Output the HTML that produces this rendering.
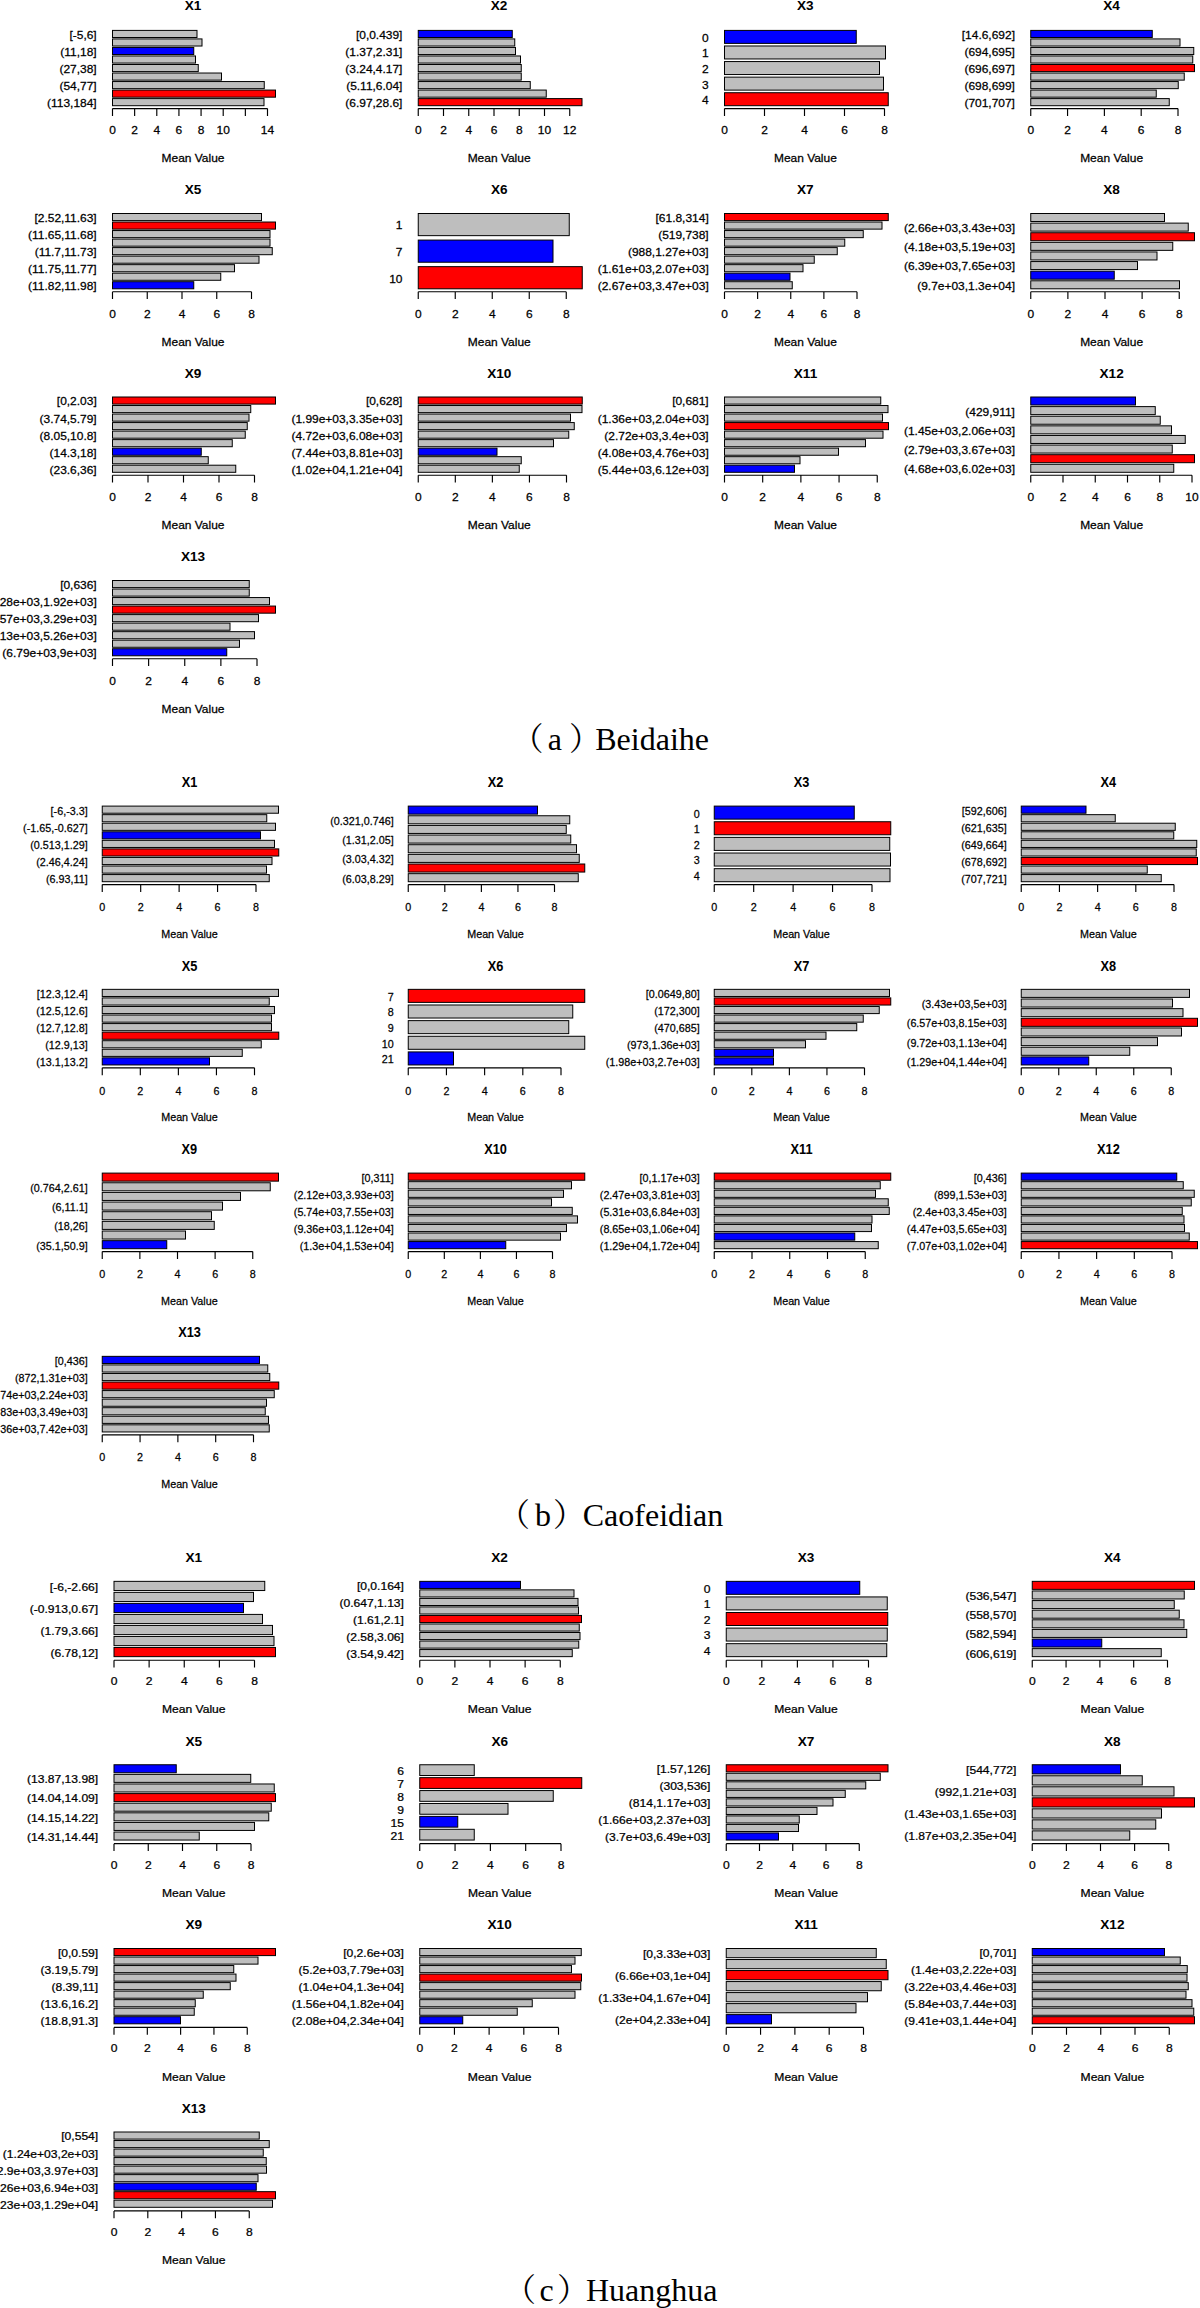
<!DOCTYPE html>
<html><head><meta charset="utf-8"><title>Figure</title><style>
html,body{margin:0;padding:0;background:#fff}
svg{display:block}
.t{font-family:"Liberation Sans",sans-serif;fill:#000;stroke:#000;stroke-width:0.25px}
.h{font-family:"Liberation Sans",sans-serif;font-weight:bold;fill:#000}
.cap{font-family:"Liberation Serif","Noto Serif CJK SC",serif;font-size:32px;fill:#000}
rect{stroke:#000;stroke-width:1}
.ax{stroke:#000;stroke-width:1.15;fill:none}
</style></head><body>
<svg width="1200" height="2308" viewBox="0 0 1200 2308">
<rect x="0" y="0" width="1200" height="2308" fill="#fff" style="stroke:none"/>
<g><rect x="112.5" y="30.4" width="84.5" height="7.1" fill="#bebebe"/><text class="t" font-size="11.4" transform="translate(96.7,38.85) scale(1.05,1)" text-anchor="end">[-5,6]</text><rect x="112.5" y="38.92" width="89.5" height="7.1" fill="#bebebe"/><rect x="112.5" y="47.45" width="81.25" height="7.1" fill="#0000ff"/><text class="t" font-size="11.4" transform="translate(96.7,55.9) scale(1.05,1)" text-anchor="end">(11,18]</text><rect x="112.5" y="55.97" width="83" height="7.1" fill="#bebebe"/><rect x="112.5" y="64.5" width="85.75" height="7.1" fill="#bebebe"/><text class="t" font-size="11.4" transform="translate(96.7,72.95) scale(1.05,1)" text-anchor="end">(27,38]</text><rect x="112.5" y="73.02" width="109" height="7.1" fill="#bebebe"/><rect x="112.5" y="81.55" width="151.75" height="7.1" fill="#bebebe"/><text class="t" font-size="11.4" transform="translate(96.7,90) scale(1.05,1)" text-anchor="end">(54,77]</text><rect x="112.5" y="90.07" width="163" height="7.1" fill="#ff0000"/><rect x="112.5" y="98.6" width="151.5" height="7.1" fill="#bebebe"/><text class="t" font-size="11.4" transform="translate(96.7,107.05) scale(1.05,1)" text-anchor="end">(113,184]</text><text class="t" font-size="11.4" transform="translate(112.5,133.6) scale(1.05,1)" text-anchor="middle">0</text><text class="t" font-size="11.4" transform="translate(134.64,133.6) scale(1.05,1)" text-anchor="middle">2</text><text class="t" font-size="11.4" transform="translate(156.79,133.6) scale(1.05,1)" text-anchor="middle">4</text><text class="t" font-size="11.4" transform="translate(178.93,133.6) scale(1.05,1)" text-anchor="middle">6</text><text class="t" font-size="11.4" transform="translate(201.07,133.6) scale(1.05,1)" text-anchor="middle">8</text><text class="t" font-size="11.4" transform="translate(223.21,133.6) scale(1.05,1)" text-anchor="middle">10</text><text class="t" font-size="11.4" transform="translate(267.5,133.6) scale(1.05,1)" text-anchor="middle">14</text><path class="ax" d="M112.5 108.6H267.5M112.5 108.6v7.3M134.64 108.6v7.3M156.79 108.6v7.3M178.93 108.6v7.3M201.07 108.6v7.3M223.21 108.6v7.3M245.36 108.6v7.3M267.5 108.6v7.3"/><text class="t" font-size="11.4" transform="translate(193,161.9) scale(1.05,1)" text-anchor="middle">Mean Value</text><text class="h" font-size="13.6" x="193" y="10.4" text-anchor="middle">X1</text></g>
<g><rect x="418.25" y="30.4" width="94" height="7.1" fill="#0000ff"/><text class="t" font-size="11.4" transform="translate(402.45,38.85) scale(1.05,1)" text-anchor="end">[0,0.439]</text><rect x="418.25" y="38.92" width="96.5" height="7.1" fill="#bebebe"/><rect x="418.25" y="47.45" width="97.25" height="7.1" fill="#bebebe"/><text class="t" font-size="11.4" transform="translate(402.45,55.9) scale(1.05,1)" text-anchor="end">(1.37,2.31]</text><rect x="418.25" y="55.97" width="102.25" height="7.1" fill="#bebebe"/><rect x="418.25" y="64.5" width="103" height="7.1" fill="#bebebe"/><text class="t" font-size="11.4" transform="translate(402.45,72.95) scale(1.05,1)" text-anchor="end">(3.24,4.17]</text><rect x="418.25" y="73.02" width="103" height="7.1" fill="#bebebe"/><rect x="418.25" y="81.55" width="112" height="7.1" fill="#bebebe"/><text class="t" font-size="11.4" transform="translate(402.45,90) scale(1.05,1)" text-anchor="end">(5.11,6.04]</text><rect x="418.25" y="90.07" width="128" height="7.1" fill="#bebebe"/><rect x="418.25" y="98.6" width="163.75" height="7.1" fill="#ff0000"/><text class="t" font-size="11.4" transform="translate(402.45,107.05) scale(1.05,1)" text-anchor="end">(6.97,28.6]</text><text class="t" font-size="11.4" transform="translate(418.25,133.6) scale(1.05,1)" text-anchor="middle">0</text><text class="t" font-size="11.4" transform="translate(443.5,133.6) scale(1.05,1)" text-anchor="middle">2</text><text class="t" font-size="11.4" transform="translate(468.75,133.6) scale(1.05,1)" text-anchor="middle">4</text><text class="t" font-size="11.4" transform="translate(494,133.6) scale(1.05,1)" text-anchor="middle">6</text><text class="t" font-size="11.4" transform="translate(519.25,133.6) scale(1.05,1)" text-anchor="middle">8</text><text class="t" font-size="11.4" transform="translate(544.5,133.6) scale(1.05,1)" text-anchor="middle">10</text><text class="t" font-size="11.4" transform="translate(569.75,133.6) scale(1.05,1)" text-anchor="middle">12</text><path class="ax" d="M418.25 108.6H569.75M418.25 108.6v7.3M443.5 108.6v7.3M468.75 108.6v7.3M494 108.6v7.3M519.25 108.6v7.3M544.5 108.6v7.3M569.75 108.6v7.3"/><text class="t" font-size="11.4" transform="translate(499.12,161.9) scale(1.05,1)" text-anchor="middle">Mean Value</text><text class="h" font-size="13.6" x="499.12" y="10.4" text-anchor="middle">X2</text></g>
<g><rect x="724.5" y="30.4" width="131.75" height="12.98" fill="#0000ff"/><text class="t" font-size="11.4" transform="translate(708.7,41.79) scale(1.05,1)" text-anchor="end">0</text><rect x="724.5" y="45.98" width="161" height="12.98" fill="#bebebe"/><text class="t" font-size="11.4" transform="translate(708.7,57.37) scale(1.05,1)" text-anchor="end">1</text><rect x="724.5" y="61.56" width="155" height="12.98" fill="#bebebe"/><text class="t" font-size="11.4" transform="translate(708.7,72.95) scale(1.05,1)" text-anchor="end">2</text><rect x="724.5" y="77.14" width="159" height="12.98" fill="#bebebe"/><text class="t" font-size="11.4" transform="translate(708.7,88.53) scale(1.05,1)" text-anchor="end">3</text><rect x="724.5" y="92.72" width="163.75" height="12.98" fill="#ff0000"/><text class="t" font-size="11.4" transform="translate(708.7,104.11) scale(1.05,1)" text-anchor="end">4</text><text class="t" font-size="11.4" transform="translate(724.5,133.6) scale(1.05,1)" text-anchor="middle">0</text><text class="t" font-size="11.4" transform="translate(764.5,133.6) scale(1.05,1)" text-anchor="middle">2</text><text class="t" font-size="11.4" transform="translate(804.5,133.6) scale(1.05,1)" text-anchor="middle">4</text><text class="t" font-size="11.4" transform="translate(844.5,133.6) scale(1.05,1)" text-anchor="middle">6</text><text class="t" font-size="11.4" transform="translate(884.5,133.6) scale(1.05,1)" text-anchor="middle">8</text><path class="ax" d="M724.5 108.6H884.5M724.5 108.6v7.3M764.5 108.6v7.3M804.5 108.6v7.3M844.5 108.6v7.3M884.5 108.6v7.3"/><text class="t" font-size="11.4" transform="translate(805.38,161.9) scale(1.05,1)" text-anchor="middle">Mean Value</text><text class="h" font-size="13.6" x="805.38" y="10.4" text-anchor="middle">X3</text></g>
<g><rect x="1030.75" y="30.4" width="121.5" height="7.1" fill="#0000ff"/><text class="t" font-size="11.4" transform="translate(1014.95,38.85) scale(1.05,1)" text-anchor="end">[14.6,692]</text><rect x="1030.75" y="38.92" width="149.25" height="7.1" fill="#bebebe"/><rect x="1030.75" y="47.45" width="163" height="7.1" fill="#bebebe"/><text class="t" font-size="11.4" transform="translate(1014.95,55.9) scale(1.05,1)" text-anchor="end">(694,695]</text><rect x="1030.75" y="55.97" width="162" height="7.1" fill="#bebebe"/><rect x="1030.75" y="64.5" width="163.75" height="7.1" fill="#ff0000"/><text class="t" font-size="11.4" transform="translate(1014.95,72.95) scale(1.05,1)" text-anchor="end">(696,697]</text><rect x="1030.75" y="73.02" width="153.5" height="7.1" fill="#bebebe"/><rect x="1030.75" y="81.55" width="147.5" height="7.1" fill="#bebebe"/><text class="t" font-size="11.4" transform="translate(1014.95,90) scale(1.05,1)" text-anchor="end">(698,699]</text><rect x="1030.75" y="90.07" width="125.5" height="7.1" fill="#bebebe"/><rect x="1030.75" y="98.6" width="138.5" height="7.1" fill="#bebebe"/><text class="t" font-size="11.4" transform="translate(1014.95,107.05) scale(1.05,1)" text-anchor="end">(701,707]</text><text class="t" font-size="11.4" transform="translate(1030.75,133.6) scale(1.05,1)" text-anchor="middle">0</text><text class="t" font-size="11.4" transform="translate(1067.56,133.6) scale(1.05,1)" text-anchor="middle">2</text><text class="t" font-size="11.4" transform="translate(1104.38,133.6) scale(1.05,1)" text-anchor="middle">4</text><text class="t" font-size="11.4" transform="translate(1141.19,133.6) scale(1.05,1)" text-anchor="middle">6</text><text class="t" font-size="11.4" transform="translate(1178,133.6) scale(1.05,1)" text-anchor="middle">8</text><path class="ax" d="M1030.75 108.6H1178M1030.75 108.6v7.3M1067.56 108.6v7.3M1104.38 108.6v7.3M1141.19 108.6v7.3M1178 108.6v7.3"/><text class="t" font-size="11.4" transform="translate(1111.62,161.9) scale(1.05,1)" text-anchor="middle">Mean Value</text><text class="h" font-size="13.6" x="1111.62" y="10.4" text-anchor="middle">X4</text></g>
<g><rect x="112.5" y="213.5" width="149" height="7.1" fill="#bebebe"/><text class="t" font-size="11.4" transform="translate(96.7,221.95) scale(1.05,1)" text-anchor="end">[2.52,11.63]</text><rect x="112.5" y="222.02" width="163" height="7.1" fill="#ff0000"/><rect x="112.5" y="230.55" width="157.5" height="7.1" fill="#bebebe"/><text class="t" font-size="11.4" transform="translate(96.7,239) scale(1.05,1)" text-anchor="end">(11.65,11.68]</text><rect x="112.5" y="239.07" width="157.5" height="7.1" fill="#bebebe"/><rect x="112.5" y="247.6" width="159.75" height="7.1" fill="#bebebe"/><text class="t" font-size="11.4" transform="translate(96.7,256.05) scale(1.05,1)" text-anchor="end">(11.7,11.73]</text><rect x="112.5" y="256.12" width="146.5" height="7.1" fill="#bebebe"/><rect x="112.5" y="264.65" width="122" height="7.1" fill="#bebebe"/><text class="t" font-size="11.4" transform="translate(96.7,273.1) scale(1.05,1)" text-anchor="end">(11.75,11.77]</text><rect x="112.5" y="273.17" width="108.25" height="7.1" fill="#bebebe"/><rect x="112.5" y="281.7" width="81.25" height="7.1" fill="#0000ff"/><text class="t" font-size="11.4" transform="translate(96.7,290.15) scale(1.05,1)" text-anchor="end">(11.82,11.98]</text><text class="t" font-size="11.4" transform="translate(112.5,317.5) scale(1.05,1)" text-anchor="middle">0</text><text class="t" font-size="11.4" transform="translate(147.25,317.5) scale(1.05,1)" text-anchor="middle">2</text><text class="t" font-size="11.4" transform="translate(182,317.5) scale(1.05,1)" text-anchor="middle">4</text><text class="t" font-size="11.4" transform="translate(216.75,317.5) scale(1.05,1)" text-anchor="middle">6</text><text class="t" font-size="11.4" transform="translate(251.5,317.5) scale(1.05,1)" text-anchor="middle">8</text><path class="ax" d="M112.5 291.7H251.5M112.5 291.7v7.3M147.25 291.7v7.3M182 291.7v7.3M216.75 291.7v7.3M251.5 291.7v7.3"/><text class="t" font-size="11.4" transform="translate(193,345.8) scale(1.05,1)" text-anchor="middle">Mean Value</text><text class="h" font-size="13.6" x="193" y="194.3" text-anchor="middle">X5</text></g>
<g><rect x="418.25" y="213.5" width="151" height="22.15" fill="#bebebe"/><text class="t" font-size="11.4" transform="translate(402.45,229.47) scale(1.05,1)" text-anchor="end">1</text><rect x="418.25" y="240.08" width="134.75" height="22.15" fill="#0000ff"/><text class="t" font-size="11.4" transform="translate(402.45,256.05) scale(1.05,1)" text-anchor="end">7</text><rect x="418.25" y="266.65" width="164" height="22.15" fill="#ff0000"/><text class="t" font-size="11.4" transform="translate(402.45,282.63) scale(1.05,1)" text-anchor="end">10</text><text class="t" font-size="11.4" transform="translate(418.25,317.5) scale(1.05,1)" text-anchor="middle">0</text><text class="t" font-size="11.4" transform="translate(455.25,317.5) scale(1.05,1)" text-anchor="middle">2</text><text class="t" font-size="11.4" transform="translate(492.25,317.5) scale(1.05,1)" text-anchor="middle">4</text><text class="t" font-size="11.4" transform="translate(529.25,317.5) scale(1.05,1)" text-anchor="middle">6</text><text class="t" font-size="11.4" transform="translate(566.25,317.5) scale(1.05,1)" text-anchor="middle">8</text><path class="ax" d="M418.25 291.7H566.25M418.25 291.7v7.3M455.25 291.7v7.3M492.25 291.7v7.3M529.25 291.7v7.3M566.25 291.7v7.3"/><text class="t" font-size="11.4" transform="translate(499.25,345.8) scale(1.05,1)" text-anchor="middle">Mean Value</text><text class="h" font-size="13.6" x="499.25" y="194.3" text-anchor="middle">X6</text></g>
<g><rect x="724.5" y="213.5" width="163.75" height="7.1" fill="#ff0000"/><text class="t" font-size="11.4" transform="translate(708.7,221.95) scale(1.05,1)" text-anchor="end">[61.8,314]</text><rect x="724.5" y="222.02" width="157.5" height="7.1" fill="#bebebe"/><rect x="724.5" y="230.55" width="138.75" height="7.1" fill="#bebebe"/><text class="t" font-size="11.4" transform="translate(708.7,239) scale(1.05,1)" text-anchor="end">(519,738]</text><rect x="724.5" y="239.07" width="120.25" height="7.1" fill="#bebebe"/><rect x="724.5" y="247.6" width="112.75" height="7.1" fill="#bebebe"/><text class="t" font-size="11.4" transform="translate(708.7,256.05) scale(1.05,1)" text-anchor="end">(988,1.27e+03]</text><rect x="724.5" y="256.12" width="89.75" height="7.1" fill="#bebebe"/><rect x="724.5" y="264.65" width="78.5" height="7.1" fill="#bebebe"/><text class="t" font-size="11.4" transform="translate(708.7,273.1) scale(1.05,1)" text-anchor="end">(1.61e+03,2.07e+03]</text><rect x="724.5" y="273.17" width="65.5" height="7.1" fill="#0000ff"/><rect x="724.5" y="281.7" width="67.75" height="7.1" fill="#bebebe"/><text class="t" font-size="11.4" transform="translate(708.7,290.15) scale(1.05,1)" text-anchor="end">(2.67e+03,3.47e+03]</text><text class="t" font-size="11.4" transform="translate(724.5,317.5) scale(1.05,1)" text-anchor="middle">0</text><text class="t" font-size="11.4" transform="translate(757.62,317.5) scale(1.05,1)" text-anchor="middle">2</text><text class="t" font-size="11.4" transform="translate(790.75,317.5) scale(1.05,1)" text-anchor="middle">4</text><text class="t" font-size="11.4" transform="translate(823.88,317.5) scale(1.05,1)" text-anchor="middle">6</text><text class="t" font-size="11.4" transform="translate(857,317.5) scale(1.05,1)" text-anchor="middle">8</text><path class="ax" d="M724.5 291.7H857M724.5 291.7v7.3M757.62 291.7v7.3M790.75 291.7v7.3M823.88 291.7v7.3M857 291.7v7.3"/><text class="t" font-size="11.4" transform="translate(805.38,345.8) scale(1.05,1)" text-anchor="middle">Mean Value</text><text class="h" font-size="13.6" x="805.38" y="194.3" text-anchor="middle">X7</text></g>
<g><rect x="1030.75" y="213.5" width="133.75" height="8.01" fill="#bebebe"/><rect x="1030.75" y="223.11" width="157.5" height="8.01" fill="#bebebe"/><text class="t" font-size="11.4" transform="translate(1014.95,232.02) scale(1.05,1)" text-anchor="end">(2.66e+03,3.43e+03]</text><rect x="1030.75" y="232.73" width="163.75" height="8.01" fill="#ff0000"/><rect x="1030.75" y="242.34" width="142" height="8.01" fill="#bebebe"/><text class="t" font-size="11.4" transform="translate(1014.95,251.24) scale(1.05,1)" text-anchor="end">(4.18e+03,5.19e+03]</text><rect x="1030.75" y="251.95" width="126.25" height="8.01" fill="#bebebe"/><rect x="1030.75" y="261.56" width="106.75" height="8.01" fill="#bebebe"/><text class="t" font-size="11.4" transform="translate(1014.95,270.47) scale(1.05,1)" text-anchor="end">(6.39e+03,7.65e+03]</text><rect x="1030.75" y="271.18" width="83.5" height="8.01" fill="#0000ff"/><rect x="1030.75" y="280.79" width="148.75" height="8.01" fill="#bebebe"/><text class="t" font-size="11.4" transform="translate(1014.95,289.69) scale(1.05,1)" text-anchor="end">(9.7e+03,1.3e+04]</text><text class="t" font-size="11.4" transform="translate(1030.75,317.5) scale(1.05,1)" text-anchor="middle">0</text><text class="t" font-size="11.4" transform="translate(1067.88,317.5) scale(1.05,1)" text-anchor="middle">2</text><text class="t" font-size="11.4" transform="translate(1105,317.5) scale(1.05,1)" text-anchor="middle">4</text><text class="t" font-size="11.4" transform="translate(1142.12,317.5) scale(1.05,1)" text-anchor="middle">6</text><text class="t" font-size="11.4" transform="translate(1179.25,317.5) scale(1.05,1)" text-anchor="middle">8</text><path class="ax" d="M1030.75 291.7H1179.25M1030.75 291.7v7.3M1067.88 291.7v7.3M1105 291.7v7.3M1142.12 291.7v7.3M1179.25 291.7v7.3"/><text class="t" font-size="11.4" transform="translate(1111.62,345.8) scale(1.05,1)" text-anchor="middle">Mean Value</text><text class="h" font-size="13.6" x="1111.62" y="194.3" text-anchor="middle">X8</text></g>
<g><rect x="112.5" y="397" width="163" height="7.1" fill="#ff0000"/><text class="t" font-size="11.4" transform="translate(96.7,405.45) scale(1.05,1)" text-anchor="end">[0,2.03]</text><rect x="112.5" y="405.52" width="138.25" height="7.1" fill="#bebebe"/><rect x="112.5" y="414.05" width="136.5" height="7.1" fill="#bebebe"/><text class="t" font-size="11.4" transform="translate(96.7,422.5) scale(1.05,1)" text-anchor="end">(3.74,5.79]</text><rect x="112.5" y="422.57" width="134.75" height="7.1" fill="#bebebe"/><rect x="112.5" y="431.1" width="132.75" height="7.1" fill="#bebebe"/><text class="t" font-size="11.4" transform="translate(96.7,439.55) scale(1.05,1)" text-anchor="end">(8.05,10.8]</text><rect x="112.5" y="439.62" width="119.75" height="7.1" fill="#bebebe"/><rect x="112.5" y="448.15" width="88.75" height="7.1" fill="#0000ff"/><text class="t" font-size="11.4" transform="translate(96.7,456.6) scale(1.05,1)" text-anchor="end">(14.3,18]</text><rect x="112.5" y="456.67" width="95.75" height="7.1" fill="#bebebe"/><rect x="112.5" y="465.2" width="123.25" height="7.1" fill="#bebebe"/><text class="t" font-size="11.4" transform="translate(96.7,473.65) scale(1.05,1)" text-anchor="end">(23.6,36]</text><text class="t" font-size="11.4" transform="translate(112.5,501.1) scale(1.05,1)" text-anchor="middle">0</text><text class="t" font-size="11.4" transform="translate(148,501.1) scale(1.05,1)" text-anchor="middle">2</text><text class="t" font-size="11.4" transform="translate(183.5,501.1) scale(1.05,1)" text-anchor="middle">4</text><text class="t" font-size="11.4" transform="translate(219,501.1) scale(1.05,1)" text-anchor="middle">6</text><text class="t" font-size="11.4" transform="translate(254.5,501.1) scale(1.05,1)" text-anchor="middle">8</text><path class="ax" d="M112.5 475.2H254.5M112.5 475.2v7.3M148 475.2v7.3M183.5 475.2v7.3M219 475.2v7.3M254.5 475.2v7.3"/><text class="t" font-size="11.4" transform="translate(193,529.4) scale(1.05,1)" text-anchor="middle">Mean Value</text><text class="h" font-size="13.6" x="193" y="377.9" text-anchor="middle">X9</text></g>
<g><rect x="418.25" y="397" width="164" height="7.1" fill="#ff0000"/><text class="t" font-size="11.4" transform="translate(402.45,405.45) scale(1.05,1)" text-anchor="end">[0,628]</text><rect x="418.25" y="405.52" width="163.75" height="7.1" fill="#bebebe"/><rect x="418.25" y="414.05" width="152.25" height="7.1" fill="#bebebe"/><text class="t" font-size="11.4" transform="translate(402.45,422.5) scale(1.05,1)" text-anchor="end">(1.99e+03,3.35e+03]</text><rect x="418.25" y="422.57" width="156" height="7.1" fill="#bebebe"/><rect x="418.25" y="431.1" width="150.5" height="7.1" fill="#bebebe"/><text class="t" font-size="11.4" transform="translate(402.45,439.55) scale(1.05,1)" text-anchor="end">(4.72e+03,6.08e+03]</text><rect x="418.25" y="439.62" width="135.25" height="7.1" fill="#bebebe"/><rect x="418.25" y="448.15" width="78.75" height="7.1" fill="#0000ff"/><text class="t" font-size="11.4" transform="translate(402.45,456.6) scale(1.05,1)" text-anchor="end">(7.44e+03,8.81e+03]</text><rect x="418.25" y="456.67" width="103" height="7.1" fill="#bebebe"/><rect x="418.25" y="465.2" width="101" height="7.1" fill="#bebebe"/><text class="t" font-size="11.4" transform="translate(402.45,473.65) scale(1.05,1)" text-anchor="end">(1.02e+04,1.21e+04]</text><text class="t" font-size="11.4" transform="translate(418.25,501.1) scale(1.05,1)" text-anchor="middle">0</text><text class="t" font-size="11.4" transform="translate(455.31,501.1) scale(1.05,1)" text-anchor="middle">2</text><text class="t" font-size="11.4" transform="translate(492.38,501.1) scale(1.05,1)" text-anchor="middle">4</text><text class="t" font-size="11.4" transform="translate(529.44,501.1) scale(1.05,1)" text-anchor="middle">6</text><text class="t" font-size="11.4" transform="translate(566.5,501.1) scale(1.05,1)" text-anchor="middle">8</text><path class="ax" d="M418.25 475.2H566.5M418.25 475.2v7.3M455.31 475.2v7.3M492.38 475.2v7.3M529.44 475.2v7.3M566.5 475.2v7.3"/><text class="t" font-size="11.4" transform="translate(499.25,529.4) scale(1.05,1)" text-anchor="middle">Mean Value</text><text class="h" font-size="13.6" x="499.25" y="377.9" text-anchor="middle">X10</text></g>
<g><rect x="724.5" y="397" width="156.25" height="7.1" fill="#bebebe"/><text class="t" font-size="11.4" transform="translate(708.7,405.45) scale(1.05,1)" text-anchor="end">[0,681]</text><rect x="724.5" y="405.52" width="163.5" height="7.1" fill="#bebebe"/><rect x="724.5" y="414.05" width="158" height="7.1" fill="#bebebe"/><text class="t" font-size="11.4" transform="translate(708.7,422.5) scale(1.05,1)" text-anchor="end">(1.36e+03,2.04e+03]</text><rect x="724.5" y="422.57" width="164" height="7.1" fill="#ff0000"/><rect x="724.5" y="431.1" width="158.5" height="7.1" fill="#bebebe"/><text class="t" font-size="11.4" transform="translate(708.7,439.55) scale(1.05,1)" text-anchor="end">(2.72e+03,3.4e+03]</text><rect x="724.5" y="439.62" width="141" height="7.1" fill="#bebebe"/><rect x="724.5" y="448.15" width="114" height="7.1" fill="#bebebe"/><text class="t" font-size="11.4" transform="translate(708.7,456.6) scale(1.05,1)" text-anchor="end">(4.08e+03,4.76e+03]</text><rect x="724.5" y="456.67" width="75.5" height="7.1" fill="#bebebe"/><rect x="724.5" y="465.2" width="70" height="7.1" fill="#0000ff"/><text class="t" font-size="11.4" transform="translate(708.7,473.65) scale(1.05,1)" text-anchor="end">(5.44e+03,6.12e+03]</text><text class="t" font-size="11.4" transform="translate(724.5,501.1) scale(1.05,1)" text-anchor="middle">0</text><text class="t" font-size="11.4" transform="translate(762.69,501.1) scale(1.05,1)" text-anchor="middle">2</text><text class="t" font-size="11.4" transform="translate(800.88,501.1) scale(1.05,1)" text-anchor="middle">4</text><text class="t" font-size="11.4" transform="translate(839.06,501.1) scale(1.05,1)" text-anchor="middle">6</text><text class="t" font-size="11.4" transform="translate(877.25,501.1) scale(1.05,1)" text-anchor="middle">8</text><path class="ax" d="M724.5 475.2H877.25M724.5 475.2v7.3M762.69 475.2v7.3M800.88 475.2v7.3M839.06 475.2v7.3M877.25 475.2v7.3"/><text class="t" font-size="11.4" transform="translate(805.5,529.4) scale(1.05,1)" text-anchor="middle">Mean Value</text><text class="h" font-size="13.6" x="805.5" y="377.9" text-anchor="middle">X11</text></g>
<g><rect x="1030.75" y="397" width="104.75" height="8.01" fill="#0000ff"/><rect x="1030.75" y="406.61" width="124.5" height="8.01" fill="#bebebe"/><text class="t" font-size="11.4" transform="translate(1014.95,415.52) scale(1.05,1)" text-anchor="end">(429,911]</text><rect x="1030.75" y="416.23" width="129.5" height="8.01" fill="#bebebe"/><rect x="1030.75" y="425.84" width="140.75" height="8.01" fill="#bebebe"/><text class="t" font-size="11.4" transform="translate(1014.95,434.74) scale(1.05,1)" text-anchor="end">(1.45e+03,2.06e+03]</text><rect x="1030.75" y="435.45" width="154.5" height="8.01" fill="#bebebe"/><rect x="1030.75" y="445.06" width="141.5" height="8.01" fill="#bebebe"/><text class="t" font-size="11.4" transform="translate(1014.95,453.97) scale(1.05,1)" text-anchor="end">(2.79e+03,3.67e+03]</text><rect x="1030.75" y="454.68" width="163.75" height="8.01" fill="#ff0000"/><rect x="1030.75" y="464.29" width="143" height="8.01" fill="#bebebe"/><text class="t" font-size="11.4" transform="translate(1014.95,473.19) scale(1.05,1)" text-anchor="end">(4.68e+03,6.02e+03]</text><text class="t" font-size="11.4" transform="translate(1030.75,501.1) scale(1.05,1)" text-anchor="middle">0</text><text class="t" font-size="11.4" transform="translate(1063,501.1) scale(1.05,1)" text-anchor="middle">2</text><text class="t" font-size="11.4" transform="translate(1095.25,501.1) scale(1.05,1)" text-anchor="middle">4</text><text class="t" font-size="11.4" transform="translate(1127.5,501.1) scale(1.05,1)" text-anchor="middle">6</text><text class="t" font-size="11.4" transform="translate(1159.75,501.1) scale(1.05,1)" text-anchor="middle">8</text><text class="t" font-size="11.4" transform="translate(1192,501.1) scale(1.05,1)" text-anchor="middle">10</text><path class="ax" d="M1030.75 475.2H1192M1030.75 475.2v7.3M1063 475.2v7.3M1095.25 475.2v7.3M1127.5 475.2v7.3M1159.75 475.2v7.3M1192 475.2v7.3"/><text class="t" font-size="11.4" transform="translate(1111.62,529.4) scale(1.05,1)" text-anchor="middle">Mean Value</text><text class="h" font-size="13.6" x="1111.62" y="377.9" text-anchor="middle">X12</text></g>
<g><rect x="112.5" y="580.5" width="136.75" height="7.1" fill="#bebebe"/><text class="t" font-size="11.4" transform="translate(96.7,588.95) scale(1.05,1)" text-anchor="end">[0,636]</text><rect x="112.5" y="589.02" width="136.75" height="7.1" fill="#bebebe"/><rect x="112.5" y="597.55" width="157" height="7.1" fill="#bebebe"/><text class="t" font-size="11.4" transform="translate(96.7,606) scale(1.05,1)" text-anchor="end">(1.28e+03,1.92e+03]</text><rect x="112.5" y="606.07" width="163" height="7.1" fill="#ff0000"/><rect x="112.5" y="614.6" width="146" height="7.1" fill="#bebebe"/><text class="t" font-size="11.4" transform="translate(96.7,623.05) scale(1.05,1)" text-anchor="end">(2.57e+03,3.29e+03]</text><rect x="112.5" y="623.12" width="117.5" height="7.1" fill="#bebebe"/><rect x="112.5" y="631.65" width="142" height="7.1" fill="#bebebe"/><text class="t" font-size="11.4" transform="translate(96.7,640.1) scale(1.05,1)" text-anchor="end">(4.13e+03,5.26e+03]</text><rect x="112.5" y="640.17" width="127" height="7.1" fill="#bebebe"/><rect x="112.5" y="648.7" width="114.25" height="7.1" fill="#0000ff"/><text class="t" font-size="11.4" transform="translate(96.7,657.15) scale(1.05,1)" text-anchor="end">(6.79e+03,9e+03]</text><text class="t" font-size="11.4" transform="translate(112.5,684.6) scale(1.05,1)" text-anchor="middle">0</text><text class="t" font-size="11.4" transform="translate(148.62,684.6) scale(1.05,1)" text-anchor="middle">2</text><text class="t" font-size="11.4" transform="translate(184.75,684.6) scale(1.05,1)" text-anchor="middle">4</text><text class="t" font-size="11.4" transform="translate(220.88,684.6) scale(1.05,1)" text-anchor="middle">6</text><text class="t" font-size="11.4" transform="translate(257,684.6) scale(1.05,1)" text-anchor="middle">8</text><path class="ax" d="M112.5 658.7H257M112.5 658.7v7.3M148.62 658.7v7.3M184.75 658.7v7.3M220.88 658.7v7.3M257 658.7v7.3"/><text class="t" font-size="11.4" transform="translate(193,712.9) scale(1.05,1)" text-anchor="middle">Mean Value</text><text class="h" font-size="13.6" x="193" y="561.4" text-anchor="middle">X13</text></g>
<text class="cap" y="750"><tspan x="511.6">（</tspan><tspan x="547.75">a</tspan><tspan x="568.9">）</tspan><tspan x="595.25">Beidaihe</tspan></text>
<g><rect x="102.25" y="806.1" width="176.25" height="7.13" fill="#bebebe"/><text class="t" font-size="11.8" transform="translate(87.65,814.57) scale(0.912,1)" text-anchor="end">[-6,-3.3]</text><rect x="102.25" y="814.66" width="164.5" height="7.13" fill="#bebebe"/><rect x="102.25" y="823.22" width="173.25" height="7.13" fill="#bebebe"/><text class="t" font-size="11.8" transform="translate(87.65,831.68) scale(0.912,1)" text-anchor="end">(-1.65,-0.627]</text><rect x="102.25" y="831.78" width="158.25" height="7.13" fill="#0000ff"/><rect x="102.25" y="840.33" width="172.25" height="7.13" fill="#bebebe"/><text class="t" font-size="11.8" transform="translate(87.65,848.8) scale(0.912,1)" text-anchor="end">(0.513,1.29]</text><rect x="102.25" y="848.89" width="176.5" height="7.13" fill="#ff0000"/><rect x="102.25" y="857.45" width="169.75" height="7.13" fill="#bebebe"/><text class="t" font-size="11.8" transform="translate(87.65,865.92) scale(0.912,1)" text-anchor="end">(2.46,4.24]</text><rect x="102.25" y="866.01" width="164.25" height="7.13" fill="#bebebe"/><rect x="102.25" y="874.57" width="167" height="7.13" fill="#bebebe"/><text class="t" font-size="11.8" transform="translate(87.65,883.03) scale(0.912,1)" text-anchor="end">(6.93,11]</text><text class="t" font-size="11.8" transform="translate(102.25,910.8) scale(0.912,1)" text-anchor="middle">0</text><text class="t" font-size="11.8" transform="translate(140.69,910.8) scale(0.912,1)" text-anchor="middle">2</text><text class="t" font-size="11.8" transform="translate(179.12,910.8) scale(0.912,1)" text-anchor="middle">4</text><text class="t" font-size="11.8" transform="translate(217.56,910.8) scale(0.912,1)" text-anchor="middle">6</text><text class="t" font-size="11.8" transform="translate(256,910.8) scale(0.912,1)" text-anchor="middle">8</text><path class="ax" d="M102.25 884.6H256M102.25 884.6v7.3M140.69 884.6v7.3M179.12 884.6v7.3M217.56 884.6v7.3M256 884.6v7.3"/><text class="t" font-size="11.8" transform="translate(189.5,937.6) scale(0.912,1)" text-anchor="middle">Mean Value</text><text class="h" font-size="14.2" transform="translate(189.5,786.8) scale(0.9,1)" text-anchor="middle">X1</text></g>
<g><rect x="408.25" y="806.1" width="129.25" height="8.04" fill="#0000ff"/><rect x="408.25" y="815.75" width="161.5" height="8.04" fill="#bebebe"/><text class="t" font-size="11.8" transform="translate(393.65,824.67) scale(0.912,1)" text-anchor="end">(0.321,0.746]</text><rect x="408.25" y="825.4" width="158" height="8.04" fill="#bebebe"/><rect x="408.25" y="835.05" width="162.5" height="8.04" fill="#bebebe"/><text class="t" font-size="11.8" transform="translate(393.65,843.97) scale(0.912,1)" text-anchor="end">(1.31,2.05]</text><rect x="408.25" y="844.7" width="168.25" height="8.04" fill="#bebebe"/><rect x="408.25" y="854.36" width="171" height="8.04" fill="#bebebe"/><text class="t" font-size="11.8" transform="translate(393.65,863.28) scale(0.912,1)" text-anchor="end">(3.03,4.32]</text><rect x="408.25" y="864.01" width="176.5" height="8.04" fill="#ff0000"/><rect x="408.25" y="873.66" width="170" height="8.04" fill="#bebebe"/><text class="t" font-size="11.8" transform="translate(393.65,882.58) scale(0.912,1)" text-anchor="end">(6.03,8.29]</text><text class="t" font-size="11.8" transform="translate(408.25,910.8) scale(0.912,1)" text-anchor="middle">0</text><text class="t" font-size="11.8" transform="translate(444.81,910.8) scale(0.912,1)" text-anchor="middle">2</text><text class="t" font-size="11.8" transform="translate(481.38,910.8) scale(0.912,1)" text-anchor="middle">4</text><text class="t" font-size="11.8" transform="translate(517.94,910.8) scale(0.912,1)" text-anchor="middle">6</text><text class="t" font-size="11.8" transform="translate(554.5,910.8) scale(0.912,1)" text-anchor="middle">8</text><path class="ax" d="M408.25 884.6H554.5M408.25 884.6v7.3M444.81 884.6v7.3M481.38 884.6v7.3M517.94 884.6v7.3M554.5 884.6v7.3"/><text class="t" font-size="11.8" transform="translate(495.5,937.6) scale(0.912,1)" text-anchor="middle">Mean Value</text><text class="h" font-size="14.2" transform="translate(495.5,786.8) scale(0.9,1)" text-anchor="middle">X2</text></g>
<g><rect x="714.25" y="806.1" width="140" height="13.03" fill="#0000ff"/><text class="t" font-size="11.8" transform="translate(699.65,817.52) scale(0.912,1)" text-anchor="end">0</text><rect x="714.25" y="821.74" width="176.5" height="13.03" fill="#ff0000"/><text class="t" font-size="11.8" transform="translate(699.65,833.16) scale(0.912,1)" text-anchor="end">1</text><rect x="714.25" y="837.38" width="175.5" height="13.03" fill="#bebebe"/><text class="t" font-size="11.8" transform="translate(699.65,848.8) scale(0.912,1)" text-anchor="end">2</text><rect x="714.25" y="853.02" width="176.25" height="13.03" fill="#bebebe"/><text class="t" font-size="11.8" transform="translate(699.65,864.44) scale(0.912,1)" text-anchor="end">3</text><rect x="714.25" y="868.67" width="175.75" height="13.03" fill="#bebebe"/><text class="t" font-size="11.8" transform="translate(699.65,880.08) scale(0.912,1)" text-anchor="end">4</text><text class="t" font-size="11.8" transform="translate(714.25,910.8) scale(0.912,1)" text-anchor="middle">0</text><text class="t" font-size="11.8" transform="translate(753.69,910.8) scale(0.912,1)" text-anchor="middle">2</text><text class="t" font-size="11.8" transform="translate(793.12,910.8) scale(0.912,1)" text-anchor="middle">4</text><text class="t" font-size="11.8" transform="translate(832.56,910.8) scale(0.912,1)" text-anchor="middle">6</text><text class="t" font-size="11.8" transform="translate(872,910.8) scale(0.912,1)" text-anchor="middle">8</text><path class="ax" d="M714.25 884.6H872M714.25 884.6v7.3M753.69 884.6v7.3M793.12 884.6v7.3M832.56 884.6v7.3M872 884.6v7.3"/><text class="t" font-size="11.8" transform="translate(801.5,937.6) scale(0.912,1)" text-anchor="middle">Mean Value</text><text class="h" font-size="14.2" transform="translate(801.5,786.8) scale(0.9,1)" text-anchor="middle">X3</text></g>
<g><rect x="1021.25" y="806.1" width="64.75" height="7.13" fill="#0000ff"/><text class="t" font-size="11.8" transform="translate(1006.65,814.57) scale(0.912,1)" text-anchor="end">[592,606]</text><rect x="1021.25" y="814.66" width="94" height="7.13" fill="#bebebe"/><rect x="1021.25" y="823.22" width="154" height="7.13" fill="#bebebe"/><text class="t" font-size="11.8" transform="translate(1006.65,831.68) scale(0.912,1)" text-anchor="end">(621,635]</text><rect x="1021.25" y="831.78" width="152.5" height="7.13" fill="#bebebe"/><rect x="1021.25" y="840.33" width="175.5" height="7.13" fill="#bebebe"/><text class="t" font-size="11.8" transform="translate(1006.65,848.8) scale(0.912,1)" text-anchor="end">(649,664]</text><rect x="1021.25" y="848.89" width="175" height="7.13" fill="#bebebe"/><rect x="1021.25" y="857.45" width="176.25" height="7.13" fill="#ff0000"/><text class="t" font-size="11.8" transform="translate(1006.65,865.92) scale(0.912,1)" text-anchor="end">(678,692]</text><rect x="1021.25" y="866.01" width="126" height="7.13" fill="#bebebe"/><rect x="1021.25" y="874.57" width="140" height="7.13" fill="#bebebe"/><text class="t" font-size="11.8" transform="translate(1006.65,883.03) scale(0.912,1)" text-anchor="end">(707,721]</text><text class="t" font-size="11.8" transform="translate(1021.25,910.8) scale(0.912,1)" text-anchor="middle">0</text><text class="t" font-size="11.8" transform="translate(1059.44,910.8) scale(0.912,1)" text-anchor="middle">2</text><text class="t" font-size="11.8" transform="translate(1097.62,910.8) scale(0.912,1)" text-anchor="middle">4</text><text class="t" font-size="11.8" transform="translate(1135.81,910.8) scale(0.912,1)" text-anchor="middle">6</text><text class="t" font-size="11.8" transform="translate(1174,910.8) scale(0.912,1)" text-anchor="middle">8</text><path class="ax" d="M1021.25 884.6H1174M1021.25 884.6v7.3M1059.44 884.6v7.3M1097.62 884.6v7.3M1135.81 884.6v7.3M1174 884.6v7.3"/><text class="t" font-size="11.8" transform="translate(1108.38,937.6) scale(0.912,1)" text-anchor="middle">Mean Value</text><text class="h" font-size="14.2" transform="translate(1108.38,786.8) scale(0.9,1)" text-anchor="middle">X4</text></g>
<g><rect x="102.25" y="989.35" width="176.25" height="7.13" fill="#bebebe"/><text class="t" font-size="11.8" transform="translate(87.65,997.82) scale(0.912,1)" text-anchor="end">[12.3,12.4]</text><rect x="102.25" y="997.91" width="167" height="7.13" fill="#bebebe"/><rect x="102.25" y="1006.47" width="172.25" height="7.13" fill="#bebebe"/><text class="t" font-size="11.8" transform="translate(87.65,1014.93) scale(0.912,1)" text-anchor="end">(12.5,12.6]</text><rect x="102.25" y="1015.03" width="169.25" height="7.13" fill="#bebebe"/><rect x="102.25" y="1023.58" width="169.25" height="7.13" fill="#bebebe"/><text class="t" font-size="11.8" transform="translate(87.65,1032.05) scale(0.912,1)" text-anchor="end">(12.7,12.8]</text><rect x="102.25" y="1032.14" width="176.5" height="7.13" fill="#ff0000"/><rect x="102.25" y="1040.7" width="159" height="7.13" fill="#bebebe"/><text class="t" font-size="11.8" transform="translate(87.65,1049.17) scale(0.912,1)" text-anchor="end">(12.9,13]</text><rect x="102.25" y="1049.26" width="140" height="7.13" fill="#bebebe"/><rect x="102.25" y="1057.82" width="107.25" height="7.13" fill="#0000ff"/><text class="t" font-size="11.8" transform="translate(87.65,1066.28) scale(0.912,1)" text-anchor="end">(13.1,13.2]</text><text class="t" font-size="11.8" transform="translate(102.25,1094.65) scale(0.912,1)" text-anchor="middle">0</text><text class="t" font-size="11.8" transform="translate(140.31,1094.65) scale(0.912,1)" text-anchor="middle">2</text><text class="t" font-size="11.8" transform="translate(178.38,1094.65) scale(0.912,1)" text-anchor="middle">4</text><text class="t" font-size="11.8" transform="translate(216.44,1094.65) scale(0.912,1)" text-anchor="middle">6</text><text class="t" font-size="11.8" transform="translate(254.5,1094.65) scale(0.912,1)" text-anchor="middle">8</text><path class="ax" d="M102.25 1067.85H254.5M102.25 1067.85v7.3M140.31 1067.85v7.3M178.38 1067.85v7.3M216.44 1067.85v7.3M254.5 1067.85v7.3"/><text class="t" font-size="11.8" transform="translate(189.5,1121.45) scale(0.912,1)" text-anchor="middle">Mean Value</text><text class="h" font-size="14.2" transform="translate(189.5,970.65) scale(0.9,1)" text-anchor="middle">X5</text></g>
<g><rect x="408.25" y="989.35" width="176.5" height="13.03" fill="#ff0000"/><text class="t" font-size="11.8" transform="translate(393.65,1000.77) scale(0.912,1)" text-anchor="end">7</text><rect x="408.25" y="1004.99" width="164.5" height="13.03" fill="#bebebe"/><text class="t" font-size="11.8" transform="translate(393.65,1016.41) scale(0.912,1)" text-anchor="end">8</text><rect x="408.25" y="1020.63" width="160.5" height="13.03" fill="#bebebe"/><text class="t" font-size="11.8" transform="translate(393.65,1032.05) scale(0.912,1)" text-anchor="end">9</text><rect x="408.25" y="1036.27" width="176.5" height="13.03" fill="#bebebe"/><text class="t" font-size="11.8" transform="translate(393.65,1047.69) scale(0.912,1)" text-anchor="end">10</text><rect x="408.25" y="1051.92" width="45.25" height="13.03" fill="#0000ff"/><text class="t" font-size="11.8" transform="translate(393.65,1063.33) scale(0.912,1)" text-anchor="end">21</text><text class="t" font-size="11.8" transform="translate(408.25,1094.65) scale(0.912,1)" text-anchor="middle">0</text><text class="t" font-size="11.8" transform="translate(446.44,1094.65) scale(0.912,1)" text-anchor="middle">2</text><text class="t" font-size="11.8" transform="translate(484.62,1094.65) scale(0.912,1)" text-anchor="middle">4</text><text class="t" font-size="11.8" transform="translate(522.81,1094.65) scale(0.912,1)" text-anchor="middle">6</text><text class="t" font-size="11.8" transform="translate(561,1094.65) scale(0.912,1)" text-anchor="middle">8</text><path class="ax" d="M408.25 1067.85H561M408.25 1067.85v7.3M446.44 1067.85v7.3M484.62 1067.85v7.3M522.81 1067.85v7.3M561 1067.85v7.3"/><text class="t" font-size="11.8" transform="translate(495.5,1121.45) scale(0.912,1)" text-anchor="middle">Mean Value</text><text class="h" font-size="14.2" transform="translate(495.5,970.65) scale(0.9,1)" text-anchor="middle">X6</text></g>
<g><rect x="714.25" y="989.35" width="175.25" height="7.13" fill="#bebebe"/><text class="t" font-size="11.8" transform="translate(699.65,997.82) scale(0.912,1)" text-anchor="end">[0.0649,80]</text><rect x="714.25" y="997.91" width="176.5" height="7.13" fill="#ff0000"/><rect x="714.25" y="1006.47" width="165" height="7.13" fill="#bebebe"/><text class="t" font-size="11.8" transform="translate(699.65,1014.93) scale(0.912,1)" text-anchor="end">(172,300]</text><rect x="714.25" y="1015.03" width="149" height="7.13" fill="#bebebe"/><rect x="714.25" y="1023.58" width="142.5" height="7.13" fill="#bebebe"/><text class="t" font-size="11.8" transform="translate(699.65,1032.05) scale(0.912,1)" text-anchor="end">(470,685]</text><rect x="714.25" y="1032.14" width="111.75" height="7.13" fill="#bebebe"/><rect x="714.25" y="1040.7" width="91.25" height="7.13" fill="#bebebe"/><text class="t" font-size="11.8" transform="translate(699.65,1049.17) scale(0.912,1)" text-anchor="end">(973,1.36e+03]</text><rect x="714.25" y="1049.26" width="59.25" height="7.13" fill="#0000ff"/><rect x="714.25" y="1057.82" width="59.25" height="7.13" fill="#0000ff"/><text class="t" font-size="11.8" transform="translate(699.65,1066.28) scale(0.912,1)" text-anchor="end">(1.98e+03,2.7e+03]</text><text class="t" font-size="11.8" transform="translate(714.25,1094.65) scale(0.912,1)" text-anchor="middle">0</text><text class="t" font-size="11.8" transform="translate(751.81,1094.65) scale(0.912,1)" text-anchor="middle">2</text><text class="t" font-size="11.8" transform="translate(789.38,1094.65) scale(0.912,1)" text-anchor="middle">4</text><text class="t" font-size="11.8" transform="translate(826.94,1094.65) scale(0.912,1)" text-anchor="middle">6</text><text class="t" font-size="11.8" transform="translate(864.5,1094.65) scale(0.912,1)" text-anchor="middle">8</text><path class="ax" d="M714.25 1067.85H864.5M714.25 1067.85v7.3M751.81 1067.85v7.3M789.38 1067.85v7.3M826.94 1067.85v7.3M864.5 1067.85v7.3"/><text class="t" font-size="11.8" transform="translate(801.5,1121.45) scale(0.912,1)" text-anchor="middle">Mean Value</text><text class="h" font-size="14.2" transform="translate(801.5,970.65) scale(0.9,1)" text-anchor="middle">X7</text></g>
<g><rect x="1021.25" y="989.35" width="168.25" height="8.04" fill="#bebebe"/><rect x="1021.25" y="999" width="151.25" height="8.04" fill="#bebebe"/><text class="t" font-size="11.8" transform="translate(1006.65,1007.92) scale(0.912,1)" text-anchor="end">(3.43e+03,5e+03]</text><rect x="1021.25" y="1008.65" width="161.75" height="8.04" fill="#bebebe"/><rect x="1021.25" y="1018.3" width="176.25" height="8.04" fill="#ff0000"/><text class="t" font-size="11.8" transform="translate(1006.65,1027.22) scale(0.912,1)" text-anchor="end">(6.57e+03,8.15e+03]</text><rect x="1021.25" y="1027.95" width="160.25" height="8.04" fill="#bebebe"/><rect x="1021.25" y="1037.61" width="136.25" height="8.04" fill="#bebebe"/><text class="t" font-size="11.8" transform="translate(1006.65,1046.53) scale(0.912,1)" text-anchor="end">(9.72e+03,1.13e+04]</text><rect x="1021.25" y="1047.26" width="108.5" height="8.04" fill="#bebebe"/><rect x="1021.25" y="1056.91" width="67.5" height="8.04" fill="#0000ff"/><text class="t" font-size="11.8" transform="translate(1006.65,1065.83) scale(0.912,1)" text-anchor="end">(1.29e+04,1.44e+04]</text><text class="t" font-size="11.8" transform="translate(1021.25,1094.65) scale(0.912,1)" text-anchor="middle">0</text><text class="t" font-size="11.8" transform="translate(1058.75,1094.65) scale(0.912,1)" text-anchor="middle">2</text><text class="t" font-size="11.8" transform="translate(1096.25,1094.65) scale(0.912,1)" text-anchor="middle">4</text><text class="t" font-size="11.8" transform="translate(1133.75,1094.65) scale(0.912,1)" text-anchor="middle">6</text><text class="t" font-size="11.8" transform="translate(1171.25,1094.65) scale(0.912,1)" text-anchor="middle">8</text><path class="ax" d="M1021.25 1067.85H1171.25M1021.25 1067.85v7.3M1058.75 1067.85v7.3M1096.25 1067.85v7.3M1133.75 1067.85v7.3M1171.25 1067.85v7.3"/><text class="t" font-size="11.8" transform="translate(1108.38,1121.45) scale(0.912,1)" text-anchor="middle">Mean Value</text><text class="h" font-size="14.2" transform="translate(1108.38,970.65) scale(0.9,1)" text-anchor="middle">X8</text></g>
<g><rect x="102.25" y="1173.1" width="176.25" height="8.04" fill="#ff0000"/><rect x="102.25" y="1182.75" width="168" height="8.04" fill="#bebebe"/><text class="t" font-size="11.8" transform="translate(87.65,1191.67) scale(0.912,1)" text-anchor="end">(0.764,2.61]</text><rect x="102.25" y="1192.4" width="138.25" height="8.04" fill="#bebebe"/><rect x="102.25" y="1202.05" width="120.25" height="8.04" fill="#bebebe"/><text class="t" font-size="11.8" transform="translate(87.65,1210.97) scale(0.912,1)" text-anchor="end">(6,11.1]</text><rect x="102.25" y="1211.7" width="109.25" height="8.04" fill="#bebebe"/><rect x="102.25" y="1221.36" width="112" height="8.04" fill="#bebebe"/><text class="t" font-size="11.8" transform="translate(87.65,1230.28) scale(0.912,1)" text-anchor="end">(18,26]</text><rect x="102.25" y="1231.01" width="83.25" height="8.04" fill="#bebebe"/><rect x="102.25" y="1240.66" width="64.5" height="8.04" fill="#0000ff"/><text class="t" font-size="11.8" transform="translate(87.65,1249.58) scale(0.912,1)" text-anchor="end">(35.1,50.9]</text><text class="t" font-size="11.8" transform="translate(102.25,1278.2) scale(0.912,1)" text-anchor="middle">0</text><text class="t" font-size="11.8" transform="translate(139.88,1278.2) scale(0.912,1)" text-anchor="middle">2</text><text class="t" font-size="11.8" transform="translate(177.5,1278.2) scale(0.912,1)" text-anchor="middle">4</text><text class="t" font-size="11.8" transform="translate(215.12,1278.2) scale(0.912,1)" text-anchor="middle">6</text><text class="t" font-size="11.8" transform="translate(252.75,1278.2) scale(0.912,1)" text-anchor="middle">8</text><path class="ax" d="M102.25 1251.6H252.75M102.25 1251.6v7.3M139.88 1251.6v7.3M177.5 1251.6v7.3M215.12 1251.6v7.3M252.75 1251.6v7.3"/><text class="t" font-size="11.8" transform="translate(189.38,1305) scale(0.912,1)" text-anchor="middle">Mean Value</text><text class="h" font-size="14.2" transform="translate(189.38,1154.2) scale(0.9,1)" text-anchor="middle">X9</text></g>
<g><rect x="408.25" y="1173.1" width="176.5" height="7.13" fill="#ff0000"/><text class="t" font-size="11.8" transform="translate(393.65,1181.57) scale(0.912,1)" text-anchor="end">[0,311]</text><rect x="408.25" y="1181.66" width="163.25" height="7.13" fill="#bebebe"/><rect x="408.25" y="1190.22" width="155.25" height="7.13" fill="#bebebe"/><text class="t" font-size="11.8" transform="translate(393.65,1198.68) scale(0.912,1)" text-anchor="end">(2.12e+03,3.93e+03]</text><rect x="408.25" y="1198.78" width="143.25" height="7.13" fill="#bebebe"/><rect x="408.25" y="1207.33" width="164" height="7.13" fill="#bebebe"/><text class="t" font-size="11.8" transform="translate(393.65,1215.8) scale(0.912,1)" text-anchor="end">(5.74e+03,7.55e+03]</text><rect x="408.25" y="1215.89" width="169.25" height="7.13" fill="#bebebe"/><rect x="408.25" y="1224.45" width="158.25" height="7.13" fill="#bebebe"/><text class="t" font-size="11.8" transform="translate(393.65,1232.92) scale(0.912,1)" text-anchor="end">(9.36e+03,1.12e+04]</text><rect x="408.25" y="1233.01" width="152.25" height="7.13" fill="#bebebe"/><rect x="408.25" y="1241.57" width="97.5" height="7.13" fill="#0000ff"/><text class="t" font-size="11.8" transform="translate(393.65,1250.03) scale(0.912,1)" text-anchor="end">(1.3e+04,1.53e+04]</text><text class="t" font-size="11.8" transform="translate(408.25,1278.2) scale(0.912,1)" text-anchor="middle">0</text><text class="t" font-size="11.8" transform="translate(444.31,1278.2) scale(0.912,1)" text-anchor="middle">2</text><text class="t" font-size="11.8" transform="translate(480.38,1278.2) scale(0.912,1)" text-anchor="middle">4</text><text class="t" font-size="11.8" transform="translate(516.44,1278.2) scale(0.912,1)" text-anchor="middle">6</text><text class="t" font-size="11.8" transform="translate(552.5,1278.2) scale(0.912,1)" text-anchor="middle">8</text><path class="ax" d="M408.25 1251.6H552.5M408.25 1251.6v7.3M444.31 1251.6v7.3M480.38 1251.6v7.3M516.44 1251.6v7.3M552.5 1251.6v7.3"/><text class="t" font-size="11.8" transform="translate(495.5,1305) scale(0.912,1)" text-anchor="middle">Mean Value</text><text class="h" font-size="14.2" transform="translate(495.5,1154.2) scale(0.9,1)" text-anchor="middle">X10</text></g>
<g><rect x="714.25" y="1173.1" width="176.5" height="7.13" fill="#ff0000"/><text class="t" font-size="11.8" transform="translate(699.65,1181.57) scale(0.912,1)" text-anchor="end">[0,1.17e+03]</text><rect x="714.25" y="1181.66" width="166" height="7.13" fill="#bebebe"/><rect x="714.25" y="1190.22" width="161.25" height="7.13" fill="#bebebe"/><text class="t" font-size="11.8" transform="translate(699.65,1198.68) scale(0.912,1)" text-anchor="end">(2.47e+03,3.81e+03]</text><rect x="714.25" y="1198.78" width="174" height="7.13" fill="#bebebe"/><rect x="714.25" y="1207.33" width="175" height="7.13" fill="#bebebe"/><text class="t" font-size="11.8" transform="translate(699.65,1215.8) scale(0.912,1)" text-anchor="end">(5.31e+03,6.84e+03]</text><rect x="714.25" y="1215.89" width="157.75" height="7.13" fill="#bebebe"/><rect x="714.25" y="1224.45" width="157.25" height="7.13" fill="#bebebe"/><text class="t" font-size="11.8" transform="translate(699.65,1232.92) scale(0.912,1)" text-anchor="end">(8.65e+03,1.06e+04]</text><rect x="714.25" y="1233.01" width="140.5" height="7.13" fill="#0000ff"/><rect x="714.25" y="1241.57" width="164" height="7.13" fill="#bebebe"/><text class="t" font-size="11.8" transform="translate(699.65,1250.03) scale(0.912,1)" text-anchor="end">(1.29e+04,1.72e+04]</text><text class="t" font-size="11.8" transform="translate(714.25,1278.2) scale(0.912,1)" text-anchor="middle">0</text><text class="t" font-size="11.8" transform="translate(752,1278.2) scale(0.912,1)" text-anchor="middle">2</text><text class="t" font-size="11.8" transform="translate(789.75,1278.2) scale(0.912,1)" text-anchor="middle">4</text><text class="t" font-size="11.8" transform="translate(827.5,1278.2) scale(0.912,1)" text-anchor="middle">6</text><text class="t" font-size="11.8" transform="translate(865.25,1278.2) scale(0.912,1)" text-anchor="middle">8</text><path class="ax" d="M714.25 1251.6H865.25M714.25 1251.6v7.3M752 1251.6v7.3M789.75 1251.6v7.3M827.5 1251.6v7.3M865.25 1251.6v7.3"/><text class="t" font-size="11.8" transform="translate(801.5,1305) scale(0.912,1)" text-anchor="middle">Mean Value</text><text class="h" font-size="14.2" transform="translate(801.5,1154.2) scale(0.9,1)" text-anchor="middle">X11</text></g>
<g><rect x="1021.25" y="1173.1" width="155.5" height="7.13" fill="#0000ff"/><text class="t" font-size="11.8" transform="translate(1006.65,1181.57) scale(0.912,1)" text-anchor="end">[0,436]</text><rect x="1021.25" y="1181.66" width="162" height="7.13" fill="#bebebe"/><rect x="1021.25" y="1190.22" width="173" height="7.13" fill="#bebebe"/><text class="t" font-size="11.8" transform="translate(1006.65,1198.68) scale(0.912,1)" text-anchor="end">(899,1.53e+03]</text><rect x="1021.25" y="1198.78" width="170" height="7.13" fill="#bebebe"/><rect x="1021.25" y="1207.33" width="161" height="7.13" fill="#bebebe"/><text class="t" font-size="11.8" transform="translate(1006.65,1215.8) scale(0.912,1)" text-anchor="end">(2.4e+03,3.45e+03]</text><rect x="1021.25" y="1215.89" width="162.75" height="7.13" fill="#bebebe"/><rect x="1021.25" y="1224.45" width="163.25" height="7.13" fill="#bebebe"/><text class="t" font-size="11.8" transform="translate(1006.65,1232.92) scale(0.912,1)" text-anchor="end">(4.47e+03,5.65e+03]</text><rect x="1021.25" y="1233.01" width="168" height="7.13" fill="#bebebe"/><rect x="1021.25" y="1241.57" width="176.25" height="7.13" fill="#ff0000"/><text class="t" font-size="11.8" transform="translate(1006.65,1250.03) scale(0.912,1)" text-anchor="end">(7.07e+03,1.02e+04]</text><text class="t" font-size="11.8" transform="translate(1021.25,1278.2) scale(0.912,1)" text-anchor="middle">0</text><text class="t" font-size="11.8" transform="translate(1058.94,1278.2) scale(0.912,1)" text-anchor="middle">2</text><text class="t" font-size="11.8" transform="translate(1096.62,1278.2) scale(0.912,1)" text-anchor="middle">4</text><text class="t" font-size="11.8" transform="translate(1134.31,1278.2) scale(0.912,1)" text-anchor="middle">6</text><text class="t" font-size="11.8" transform="translate(1172,1278.2) scale(0.912,1)" text-anchor="middle">8</text><path class="ax" d="M1021.25 1251.6H1172M1021.25 1251.6v7.3M1058.94 1251.6v7.3M1096.62 1251.6v7.3M1134.31 1251.6v7.3M1172 1251.6v7.3"/><text class="t" font-size="11.8" transform="translate(1108.38,1305) scale(0.912,1)" text-anchor="middle">Mean Value</text><text class="h" font-size="14.2" transform="translate(1108.38,1154.2) scale(0.9,1)" text-anchor="middle">X12</text></g>
<g><rect x="102.25" y="1356.35" width="157.25" height="7.13" fill="#0000ff"/><text class="t" font-size="11.8" transform="translate(87.65,1364.82) scale(0.912,1)" text-anchor="end">[0,436]</text><rect x="102.25" y="1364.91" width="165.5" height="7.13" fill="#bebebe"/><rect x="102.25" y="1373.47" width="167.5" height="7.13" fill="#bebebe"/><text class="t" font-size="11.8" transform="translate(87.65,1381.93) scale(0.912,1)" text-anchor="end">(872,1.31e+03]</text><rect x="102.25" y="1382.03" width="176.5" height="7.13" fill="#ff0000"/><rect x="102.25" y="1390.58" width="172" height="7.13" fill="#bebebe"/><text class="t" font-size="11.8" transform="translate(87.65,1399.05) scale(0.912,1)" text-anchor="end">(1.74e+03,2.24e+03]</text><rect x="102.25" y="1399.14" width="164.25" height="7.13" fill="#bebebe"/><rect x="102.25" y="1407.7" width="163" height="7.13" fill="#bebebe"/><text class="t" font-size="11.8" transform="translate(87.65,1416.17) scale(0.912,1)" text-anchor="end">(2.83e+03,3.49e+03]</text><rect x="102.25" y="1416.26" width="166.25" height="7.13" fill="#bebebe"/><rect x="102.25" y="1424.82" width="167" height="7.13" fill="#bebebe"/><text class="t" font-size="11.8" transform="translate(87.65,1433.28) scale(0.912,1)" text-anchor="end">(5.36e+03,7.42e+03]</text><text class="t" font-size="11.8" transform="translate(102.25,1461.45) scale(0.912,1)" text-anchor="middle">0</text><text class="t" font-size="11.8" transform="translate(140.06,1461.45) scale(0.912,1)" text-anchor="middle">2</text><text class="t" font-size="11.8" transform="translate(177.88,1461.45) scale(0.912,1)" text-anchor="middle">4</text><text class="t" font-size="11.8" transform="translate(215.69,1461.45) scale(0.912,1)" text-anchor="middle">6</text><text class="t" font-size="11.8" transform="translate(253.5,1461.45) scale(0.912,1)" text-anchor="middle">8</text><path class="ax" d="M102.25 1434.85H253.5M102.25 1434.85v7.3M140.06 1434.85v7.3M177.88 1434.85v7.3M215.69 1434.85v7.3M253.5 1434.85v7.3"/><text class="t" font-size="11.8" transform="translate(189.5,1488.25) scale(0.912,1)" text-anchor="middle">Mean Value</text><text class="h" font-size="14.2" transform="translate(189.5,1337.45) scale(0.9,1)" text-anchor="middle">X13</text></g>
<text class="cap" y="1525.5"><tspan x="498">（</tspan><tspan x="535">b</tspan><tspan x="553.1">）</tspan><tspan x="582.75">Caofeidian</tspan></text>
<g><rect x="114" y="1581.35" width="150.75" height="9.18" fill="#bebebe"/><text class="t" font-size="11.0" transform="translate(98.2,1590.84) scale(1.1,1)" text-anchor="end">[-6,-2.66]</text><rect x="114" y="1592.37" width="139.5" height="9.18" fill="#bebebe"/><rect x="114" y="1603.39" width="129.5" height="9.18" fill="#0000ff"/><text class="t" font-size="11.0" transform="translate(98.2,1612.88) scale(1.1,1)" text-anchor="end">(-0.913,0.67]</text><rect x="114" y="1614.41" width="148.5" height="9.18" fill="#bebebe"/><rect x="114" y="1625.43" width="158.5" height="9.18" fill="#bebebe"/><text class="t" font-size="11.0" transform="translate(98.2,1634.92) scale(1.1,1)" text-anchor="end">(1.79,3.66]</text><rect x="114" y="1636.45" width="160" height="9.18" fill="#bebebe"/><rect x="114" y="1647.47" width="161.5" height="9.18" fill="#ff0000"/><text class="t" font-size="11.0" transform="translate(98.2,1656.96) scale(1.1,1)" text-anchor="end">(6.78,12]</text><text class="t" font-size="11.0" transform="translate(114,1685.05) scale(1.1,1)" text-anchor="middle">0</text><text class="t" font-size="11.0" transform="translate(149.12,1685.05) scale(1.1,1)" text-anchor="middle">2</text><text class="t" font-size="11.0" transform="translate(184.25,1685.05) scale(1.1,1)" text-anchor="middle">4</text><text class="t" font-size="11.0" transform="translate(219.38,1685.05) scale(1.1,1)" text-anchor="middle">6</text><text class="t" font-size="11.0" transform="translate(254.5,1685.05) scale(1.1,1)" text-anchor="middle">8</text><path class="ax" d="M114 1660.25H254.5M114 1660.25v7.3M149.12 1660.25v7.3M184.25 1660.25v7.3M219.38 1660.25v7.3M254.5 1660.25v7.3"/><text class="t" font-size="11.0" transform="translate(193.75,1713.35) scale(1.1,1)" text-anchor="middle">Mean Value</text><text class="h" font-size="13.6" x="193.75" y="1561.85" text-anchor="middle">X1</text></g>
<g><rect x="419.75" y="1581.35" width="100.75" height="7.1" fill="#0000ff"/><text class="t" font-size="11.0" transform="translate(403.95,1589.8) scale(1.1,1)" text-anchor="end">[0,0.164]</text><rect x="419.75" y="1589.87" width="154.25" height="7.1" fill="#bebebe"/><rect x="419.75" y="1598.4" width="158.25" height="7.1" fill="#bebebe"/><text class="t" font-size="11.0" transform="translate(403.95,1606.85) scale(1.1,1)" text-anchor="end">(0.647,1.13]</text><rect x="419.75" y="1606.92" width="158.75" height="7.1" fill="#bebebe"/><rect x="419.75" y="1615.45" width="161.75" height="7.1" fill="#ff0000"/><text class="t" font-size="11.0" transform="translate(403.95,1623.9) scale(1.1,1)" text-anchor="end">(1.61,2.1]</text><rect x="419.75" y="1623.97" width="159.5" height="7.1" fill="#bebebe"/><rect x="419.75" y="1632.5" width="160.25" height="7.1" fill="#bebebe"/><text class="t" font-size="11.0" transform="translate(403.95,1640.95) scale(1.1,1)" text-anchor="end">(2.58,3.06]</text><rect x="419.75" y="1641.02" width="159" height="7.1" fill="#bebebe"/><rect x="419.75" y="1649.55" width="152.5" height="7.1" fill="#bebebe"/><text class="t" font-size="11.0" transform="translate(403.95,1658) scale(1.1,1)" text-anchor="end">(3.54,9.42]</text><text class="t" font-size="11.0" transform="translate(419.75,1685.05) scale(1.1,1)" text-anchor="middle">0</text><text class="t" font-size="11.0" transform="translate(454.88,1685.05) scale(1.1,1)" text-anchor="middle">2</text><text class="t" font-size="11.0" transform="translate(490,1685.05) scale(1.1,1)" text-anchor="middle">4</text><text class="t" font-size="11.0" transform="translate(525.12,1685.05) scale(1.1,1)" text-anchor="middle">6</text><text class="t" font-size="11.0" transform="translate(560.25,1685.05) scale(1.1,1)" text-anchor="middle">8</text><path class="ax" d="M419.75 1660.25H560.25M419.75 1660.25v7.3M454.88 1660.25v7.3M490 1660.25v7.3M525.12 1660.25v7.3M560.25 1660.25v7.3"/><text class="t" font-size="11.0" transform="translate(499.62,1713.35) scale(1.1,1)" text-anchor="middle">Mean Value</text><text class="h" font-size="13.6" x="499.62" y="1561.85" text-anchor="middle">X2</text></g>
<g><rect x="726.25" y="1581.35" width="133.5" height="12.98" fill="#0000ff"/><text class="t" font-size="11.0" transform="translate(710.45,1592.74) scale(1.1,1)" text-anchor="end">0</text><rect x="726.25" y="1596.93" width="161" height="12.98" fill="#bebebe"/><text class="t" font-size="11.0" transform="translate(710.45,1608.32) scale(1.1,1)" text-anchor="end">1</text><rect x="726.25" y="1612.51" width="161.5" height="12.98" fill="#ff0000"/><text class="t" font-size="11.0" transform="translate(710.45,1623.9) scale(1.1,1)" text-anchor="end">2</text><rect x="726.25" y="1628.09" width="161" height="12.98" fill="#bebebe"/><text class="t" font-size="11.0" transform="translate(710.45,1639.48) scale(1.1,1)" text-anchor="end">3</text><rect x="726.25" y="1643.67" width="160.5" height="12.98" fill="#bebebe"/><text class="t" font-size="11.0" transform="translate(710.45,1655.06) scale(1.1,1)" text-anchor="end">4</text><text class="t" font-size="11.0" transform="translate(726.25,1685.05) scale(1.1,1)" text-anchor="middle">0</text><text class="t" font-size="11.0" transform="translate(761.81,1685.05) scale(1.1,1)" text-anchor="middle">2</text><text class="t" font-size="11.0" transform="translate(797.38,1685.05) scale(1.1,1)" text-anchor="middle">4</text><text class="t" font-size="11.0" transform="translate(832.94,1685.05) scale(1.1,1)" text-anchor="middle">6</text><text class="t" font-size="11.0" transform="translate(868.5,1685.05) scale(1.1,1)" text-anchor="middle">8</text><path class="ax" d="M726.25 1660.25H868.5M726.25 1660.25v7.3M761.81 1660.25v7.3M797.38 1660.25v7.3M832.94 1660.25v7.3M868.5 1660.25v7.3"/><text class="t" font-size="11.0" transform="translate(806,1713.35) scale(1.1,1)" text-anchor="middle">Mean Value</text><text class="h" font-size="13.6" x="806" y="1561.85" text-anchor="middle">X3</text></g>
<g><rect x="1032.25" y="1581.35" width="162.25" height="8.01" fill="#ff0000"/><rect x="1032.25" y="1590.96" width="152" height="8.01" fill="#bebebe"/><text class="t" font-size="11.0" transform="translate(1016.45,1599.87) scale(1.1,1)" text-anchor="end">(536,547]</text><rect x="1032.25" y="1600.58" width="142" height="8.01" fill="#bebebe"/><rect x="1032.25" y="1610.19" width="147" height="8.01" fill="#bebebe"/><text class="t" font-size="11.0" transform="translate(1016.45,1619.09) scale(1.1,1)" text-anchor="end">(558,570]</text><rect x="1032.25" y="1619.8" width="151.75" height="8.01" fill="#bebebe"/><rect x="1032.25" y="1629.41" width="154.5" height="8.01" fill="#bebebe"/><text class="t" font-size="11.0" transform="translate(1016.45,1638.32) scale(1.1,1)" text-anchor="end">(582,594]</text><rect x="1032.25" y="1639.03" width="69.5" height="8.01" fill="#0000ff"/><rect x="1032.25" y="1648.64" width="129" height="8.01" fill="#bebebe"/><text class="t" font-size="11.0" transform="translate(1016.45,1657.54) scale(1.1,1)" text-anchor="end">(606,619]</text><text class="t" font-size="11.0" transform="translate(1032.25,1685.05) scale(1.1,1)" text-anchor="middle">0</text><text class="t" font-size="11.0" transform="translate(1066.06,1685.05) scale(1.1,1)" text-anchor="middle">2</text><text class="t" font-size="11.0" transform="translate(1099.88,1685.05) scale(1.1,1)" text-anchor="middle">4</text><text class="t" font-size="11.0" transform="translate(1133.69,1685.05) scale(1.1,1)" text-anchor="middle">6</text><text class="t" font-size="11.0" transform="translate(1167.5,1685.05) scale(1.1,1)" text-anchor="middle">8</text><path class="ax" d="M1032.25 1660.25H1167.5M1032.25 1660.25v7.3M1066.06 1660.25v7.3M1099.88 1660.25v7.3M1133.69 1660.25v7.3M1167.5 1660.25v7.3"/><text class="t" font-size="11.0" transform="translate(1112.38,1713.35) scale(1.1,1)" text-anchor="middle">Mean Value</text><text class="h" font-size="13.6" x="1112.38" y="1561.85" text-anchor="middle">X4</text></g>
<g><rect x="114" y="1764.75" width="62.25" height="8.01" fill="#0000ff"/><rect x="114" y="1774.36" width="136.75" height="8.01" fill="#bebebe"/><text class="t" font-size="11.0" transform="translate(98.2,1783.27) scale(1.1,1)" text-anchor="end">(13.87,13.98]</text><rect x="114" y="1783.98" width="160.25" height="8.01" fill="#bebebe"/><rect x="114" y="1793.59" width="161.5" height="8.01" fill="#ff0000"/><text class="t" font-size="11.0" transform="translate(98.2,1802.49) scale(1.1,1)" text-anchor="end">(14.04,14.09]</text><rect x="114" y="1803.2" width="157.25" height="8.01" fill="#bebebe"/><rect x="114" y="1812.81" width="154.75" height="8.01" fill="#bebebe"/><text class="t" font-size="11.0" transform="translate(98.2,1821.72) scale(1.1,1)" text-anchor="end">(14.15,14.22]</text><rect x="114" y="1822.43" width="140.5" height="8.01" fill="#bebebe"/><rect x="114" y="1832.04" width="85.25" height="8.01" fill="#bebebe"/><text class="t" font-size="11.0" transform="translate(98.2,1840.94) scale(1.1,1)" text-anchor="end">(14.31,14.44]</text><text class="t" font-size="11.0" transform="translate(114,1869.05) scale(1.1,1)" text-anchor="middle">0</text><text class="t" font-size="11.0" transform="translate(148.25,1869.05) scale(1.1,1)" text-anchor="middle">2</text><text class="t" font-size="11.0" transform="translate(182.5,1869.05) scale(1.1,1)" text-anchor="middle">4</text><text class="t" font-size="11.0" transform="translate(216.75,1869.05) scale(1.1,1)" text-anchor="middle">6</text><text class="t" font-size="11.0" transform="translate(251,1869.05) scale(1.1,1)" text-anchor="middle">8</text><path class="ax" d="M114 1843.65H251M114 1843.65v7.3M148.25 1843.65v7.3M182.5 1843.65v7.3M216.75 1843.65v7.3M251 1843.65v7.3"/><text class="t" font-size="11.0" transform="translate(193.75,1897.35) scale(1.1,1)" text-anchor="middle">Mean Value</text><text class="h" font-size="13.6" x="193.75" y="1745.85" text-anchor="middle">X5</text></g>
<g><rect x="419.75" y="1764.75" width="54.5" height="10.76" fill="#bebebe"/><text class="t" font-size="11.0" transform="translate(403.95,1775.03) scale(1.1,1)" text-anchor="end">6</text><rect x="419.75" y="1777.66" width="162" height="10.76" fill="#ff0000"/><text class="t" font-size="11.0" transform="translate(403.95,1787.94) scale(1.1,1)" text-anchor="end">7</text><rect x="419.75" y="1790.57" width="133.5" height="10.76" fill="#bebebe"/><text class="t" font-size="11.0" transform="translate(403.95,1800.85) scale(1.1,1)" text-anchor="end">8</text><rect x="419.75" y="1803.48" width="88.25" height="10.76" fill="#bebebe"/><text class="t" font-size="11.0" transform="translate(403.95,1813.75) scale(1.1,1)" text-anchor="end">9</text><rect x="419.75" y="1816.38" width="38" height="10.76" fill="#0000ff"/><text class="t" font-size="11.0" transform="translate(403.95,1826.66) scale(1.1,1)" text-anchor="end">15</text><rect x="419.75" y="1829.29" width="54.5" height="10.76" fill="#bebebe"/><text class="t" font-size="11.0" transform="translate(403.95,1839.57) scale(1.1,1)" text-anchor="end">21</text><text class="t" font-size="11.0" transform="translate(419.75,1869.05) scale(1.1,1)" text-anchor="middle">0</text><text class="t" font-size="11.0" transform="translate(455.06,1869.05) scale(1.1,1)" text-anchor="middle">2</text><text class="t" font-size="11.0" transform="translate(490.38,1869.05) scale(1.1,1)" text-anchor="middle">4</text><text class="t" font-size="11.0" transform="translate(525.69,1869.05) scale(1.1,1)" text-anchor="middle">6</text><text class="t" font-size="11.0" transform="translate(561,1869.05) scale(1.1,1)" text-anchor="middle">8</text><path class="ax" d="M419.75 1843.65H561M419.75 1843.65v7.3M455.06 1843.65v7.3M490.38 1843.65v7.3M525.69 1843.65v7.3M561 1843.65v7.3"/><text class="t" font-size="11.0" transform="translate(499.75,1897.35) scale(1.1,1)" text-anchor="middle">Mean Value</text><text class="h" font-size="13.6" x="499.75" y="1745.85" text-anchor="middle">X6</text></g>
<g><rect x="726.25" y="1764.75" width="161.75" height="7.1" fill="#ff0000"/><text class="t" font-size="11.0" transform="translate(710.45,1773.2) scale(1.1,1)" text-anchor="end">[1.57,126]</text><rect x="726.25" y="1773.27" width="154" height="7.1" fill="#bebebe"/><rect x="726.25" y="1781.8" width="139.5" height="7.1" fill="#bebebe"/><text class="t" font-size="11.0" transform="translate(710.45,1790.25) scale(1.1,1)" text-anchor="end">(303,536]</text><rect x="726.25" y="1790.32" width="119" height="7.1" fill="#bebebe"/><rect x="726.25" y="1798.85" width="106.75" height="7.1" fill="#bebebe"/><text class="t" font-size="11.0" transform="translate(710.45,1807.3) scale(1.1,1)" text-anchor="end">(814,1.17e+03]</text><rect x="726.25" y="1807.37" width="90.75" height="7.1" fill="#bebebe"/><rect x="726.25" y="1815.9" width="73" height="7.1" fill="#bebebe"/><text class="t" font-size="11.0" transform="translate(710.45,1824.35) scale(1.1,1)" text-anchor="end">(1.66e+03,2.37e+03]</text><rect x="726.25" y="1824.42" width="72.25" height="7.1" fill="#bebebe"/><rect x="726.25" y="1832.95" width="52.25" height="7.1" fill="#0000ff"/><text class="t" font-size="11.0" transform="translate(710.45,1841.4) scale(1.1,1)" text-anchor="end">(3.7e+03,6.49e+03]</text><text class="t" font-size="11.0" transform="translate(726.25,1869.05) scale(1.1,1)" text-anchor="middle">0</text><text class="t" font-size="11.0" transform="translate(759.5,1869.05) scale(1.1,1)" text-anchor="middle">2</text><text class="t" font-size="11.0" transform="translate(792.75,1869.05) scale(1.1,1)" text-anchor="middle">4</text><text class="t" font-size="11.0" transform="translate(826,1869.05) scale(1.1,1)" text-anchor="middle">6</text><text class="t" font-size="11.0" transform="translate(859.25,1869.05) scale(1.1,1)" text-anchor="middle">8</text><path class="ax" d="M726.25 1843.65H859.25M726.25 1843.65v7.3M759.5 1843.65v7.3M792.75 1843.65v7.3M826 1843.65v7.3M859.25 1843.65v7.3"/><text class="t" font-size="11.0" transform="translate(806.12,1897.35) scale(1.1,1)" text-anchor="middle">Mean Value</text><text class="h" font-size="13.6" x="806.12" y="1745.85" text-anchor="middle">X7</text></g>
<g><rect x="1032.25" y="1764.75" width="88.25" height="9.18" fill="#0000ff"/><text class="t" font-size="11.0" transform="translate(1016.45,1774.24) scale(1.1,1)" text-anchor="end">[544,772]</text><rect x="1032.25" y="1775.77" width="110" height="9.18" fill="#bebebe"/><rect x="1032.25" y="1786.79" width="141.75" height="9.18" fill="#bebebe"/><text class="t" font-size="11.0" transform="translate(1016.45,1796.28) scale(1.1,1)" text-anchor="end">(992,1.21e+03]</text><rect x="1032.25" y="1797.81" width="162.25" height="9.18" fill="#ff0000"/><rect x="1032.25" y="1808.83" width="129.25" height="9.18" fill="#bebebe"/><text class="t" font-size="11.0" transform="translate(1016.45,1818.32) scale(1.1,1)" text-anchor="end">(1.43e+03,1.65e+03]</text><rect x="1032.25" y="1819.85" width="123.5" height="9.18" fill="#bebebe"/><rect x="1032.25" y="1830.87" width="97.5" height="9.18" fill="#bebebe"/><text class="t" font-size="11.0" transform="translate(1016.45,1840.36) scale(1.1,1)" text-anchor="end">(1.87e+03,2.35e+04]</text><text class="t" font-size="11.0" transform="translate(1032.25,1869.05) scale(1.1,1)" text-anchor="middle">0</text><text class="t" font-size="11.0" transform="translate(1066.38,1869.05) scale(1.1,1)" text-anchor="middle">2</text><text class="t" font-size="11.0" transform="translate(1100.5,1869.05) scale(1.1,1)" text-anchor="middle">4</text><text class="t" font-size="11.0" transform="translate(1134.62,1869.05) scale(1.1,1)" text-anchor="middle">6</text><text class="t" font-size="11.0" transform="translate(1168.75,1869.05) scale(1.1,1)" text-anchor="middle">8</text><path class="ax" d="M1032.25 1843.65H1168.75M1032.25 1843.65v7.3M1066.38 1843.65v7.3M1100.5 1843.65v7.3M1134.62 1843.65v7.3M1168.75 1843.65v7.3"/><text class="t" font-size="11.0" transform="translate(1112.38,1897.35) scale(1.1,1)" text-anchor="middle">Mean Value</text><text class="h" font-size="13.6" x="1112.38" y="1745.85" text-anchor="middle">X8</text></g>
<g><rect x="114" y="1948.5" width="161.5" height="7.1" fill="#ff0000"/><text class="t" font-size="11.0" transform="translate(98.2,1956.95) scale(1.1,1)" text-anchor="end">[0,0.59]</text><rect x="114" y="1957.02" width="144" height="7.1" fill="#bebebe"/><rect x="114" y="1965.55" width="119.75" height="7.1" fill="#bebebe"/><text class="t" font-size="11.0" transform="translate(98.2,1974) scale(1.1,1)" text-anchor="end">(3.19,5.79]</text><rect x="114" y="1974.07" width="122" height="7.1" fill="#bebebe"/><rect x="114" y="1982.6" width="116.25" height="7.1" fill="#bebebe"/><text class="t" font-size="11.0" transform="translate(98.2,1991.05) scale(1.1,1)" text-anchor="end">(8.39,11]</text><rect x="114" y="1991.12" width="89.25" height="7.1" fill="#bebebe"/><rect x="114" y="1999.65" width="81.25" height="7.1" fill="#bebebe"/><text class="t" font-size="11.0" transform="translate(98.2,2008.1) scale(1.1,1)" text-anchor="end">(13.6,16.2]</text><rect x="114" y="2008.17" width="80.25" height="7.1" fill="#bebebe"/><rect x="114" y="2016.7" width="66.5" height="7.1" fill="#0000ff"/><text class="t" font-size="11.0" transform="translate(98.2,2025.15) scale(1.1,1)" text-anchor="end">(18.8,91.3]</text><text class="t" font-size="11.0" transform="translate(114,2052.3) scale(1.1,1)" text-anchor="middle">0</text><text class="t" font-size="11.0" transform="translate(147.31,2052.3) scale(1.1,1)" text-anchor="middle">2</text><text class="t" font-size="11.0" transform="translate(180.62,2052.3) scale(1.1,1)" text-anchor="middle">4</text><text class="t" font-size="11.0" transform="translate(213.94,2052.3) scale(1.1,1)" text-anchor="middle">6</text><text class="t" font-size="11.0" transform="translate(247.25,2052.3) scale(1.1,1)" text-anchor="middle">8</text><path class="ax" d="M114 2027.4H247.25M114 2027.4v7.3M147.31 2027.4v7.3M180.62 2027.4v7.3M213.94 2027.4v7.3M247.25 2027.4v7.3"/><text class="t" font-size="11.0" transform="translate(193.75,2080.6) scale(1.1,1)" text-anchor="middle">Mean Value</text><text class="h" font-size="13.6" x="193.75" y="1929.1" text-anchor="middle">X9</text></g>
<g><rect x="419.75" y="1948.5" width="161.5" height="7.1" fill="#bebebe"/><text class="t" font-size="11.0" transform="translate(403.95,1956.95) scale(1.1,1)" text-anchor="end">[0,2.6e+03]</text><rect x="419.75" y="1957.02" width="155.25" height="7.1" fill="#bebebe"/><rect x="419.75" y="1965.55" width="151.75" height="7.1" fill="#bebebe"/><text class="t" font-size="11.0" transform="translate(403.95,1974) scale(1.1,1)" text-anchor="end">(5.2e+03,7.79e+03]</text><rect x="419.75" y="1974.07" width="161.75" height="7.1" fill="#ff0000"/><rect x="419.75" y="1982.6" width="161" height="7.1" fill="#bebebe"/><text class="t" font-size="11.0" transform="translate(403.95,1991.05) scale(1.1,1)" text-anchor="end">(1.04e+04,1.3e+04]</text><rect x="419.75" y="1991.12" width="155.25" height="7.1" fill="#bebebe"/><rect x="419.75" y="1999.65" width="112.5" height="7.1" fill="#bebebe"/><text class="t" font-size="11.0" transform="translate(403.95,2008.1) scale(1.1,1)" text-anchor="end">(1.56e+04,1.82e+04]</text><rect x="419.75" y="2008.17" width="97.5" height="7.1" fill="#bebebe"/><rect x="419.75" y="2016.7" width="43" height="7.1" fill="#0000ff"/><text class="t" font-size="11.0" transform="translate(403.95,2025.15) scale(1.1,1)" text-anchor="end">(2.08e+04,2.34e+04]</text><text class="t" font-size="11.0" transform="translate(419.75,2052.3) scale(1.1,1)" text-anchor="middle">0</text><text class="t" font-size="11.0" transform="translate(454.44,2052.3) scale(1.1,1)" text-anchor="middle">2</text><text class="t" font-size="11.0" transform="translate(489.12,2052.3) scale(1.1,1)" text-anchor="middle">4</text><text class="t" font-size="11.0" transform="translate(523.81,2052.3) scale(1.1,1)" text-anchor="middle">6</text><text class="t" font-size="11.0" transform="translate(558.5,2052.3) scale(1.1,1)" text-anchor="middle">8</text><path class="ax" d="M419.75 2027.4H558.5M419.75 2027.4v7.3M454.44 2027.4v7.3M489.12 2027.4v7.3M523.81 2027.4v7.3M558.5 2027.4v7.3"/><text class="t" font-size="11.0" transform="translate(499.62,2080.6) scale(1.1,1)" text-anchor="middle">Mean Value</text><text class="h" font-size="13.6" x="499.62" y="1929.1" text-anchor="middle">X10</text></g>
<g><rect x="726.25" y="1948.5" width="150" height="9.18" fill="#bebebe"/><text class="t" font-size="11.0" transform="translate(710.45,1957.99) scale(1.1,1)" text-anchor="end">[0,3.33e+03]</text><rect x="726.25" y="1959.52" width="160" height="9.18" fill="#bebebe"/><rect x="726.25" y="1970.54" width="161.75" height="9.18" fill="#ff0000"/><text class="t" font-size="11.0" transform="translate(710.45,1980.03) scale(1.1,1)" text-anchor="end">(6.66e+03,1e+04]</text><rect x="726.25" y="1981.56" width="155" height="9.18" fill="#bebebe"/><rect x="726.25" y="1992.58" width="141.25" height="9.18" fill="#bebebe"/><text class="t" font-size="11.0" transform="translate(710.45,2002.07) scale(1.1,1)" text-anchor="end">(1.33e+04,1.67e+04]</text><rect x="726.25" y="2003.6" width="129.75" height="9.18" fill="#bebebe"/><rect x="726.25" y="2014.62" width="45.25" height="9.18" fill="#0000ff"/><text class="t" font-size="11.0" transform="translate(710.45,2024.11) scale(1.1,1)" text-anchor="end">(2e+04,2.33e+04]</text><text class="t" font-size="11.0" transform="translate(726.25,2052.3) scale(1.1,1)" text-anchor="middle">0</text><text class="t" font-size="11.0" transform="translate(760.56,2052.3) scale(1.1,1)" text-anchor="middle">2</text><text class="t" font-size="11.0" transform="translate(794.88,2052.3) scale(1.1,1)" text-anchor="middle">4</text><text class="t" font-size="11.0" transform="translate(829.19,2052.3) scale(1.1,1)" text-anchor="middle">6</text><text class="t" font-size="11.0" transform="translate(863.5,2052.3) scale(1.1,1)" text-anchor="middle">8</text><path class="ax" d="M726.25 2027.4H863.5M726.25 2027.4v7.3M760.56 2027.4v7.3M794.88 2027.4v7.3M829.19 2027.4v7.3M863.5 2027.4v7.3"/><text class="t" font-size="11.0" transform="translate(806.12,2080.6) scale(1.1,1)" text-anchor="middle">Mean Value</text><text class="h" font-size="13.6" x="806.12" y="1929.1" text-anchor="middle">X11</text></g>
<g><rect x="1032.25" y="1948.5" width="132.25" height="7.1" fill="#0000ff"/><text class="t" font-size="11.0" transform="translate(1016.45,1956.95) scale(1.1,1)" text-anchor="end">[0,701]</text><rect x="1032.25" y="1957.02" width="148" height="7.1" fill="#bebebe"/><rect x="1032.25" y="1965.55" width="155" height="7.1" fill="#bebebe"/><text class="t" font-size="11.0" transform="translate(1016.45,1974) scale(1.1,1)" text-anchor="end">(1.4e+03,2.22e+03]</text><rect x="1032.25" y="1974.07" width="154.75" height="7.1" fill="#bebebe"/><rect x="1032.25" y="1982.6" width="156" height="7.1" fill="#bebebe"/><text class="t" font-size="11.0" transform="translate(1016.45,1991.05) scale(1.1,1)" text-anchor="end">(3.22e+03,4.46e+03]</text><rect x="1032.25" y="1991.12" width="153.75" height="7.1" fill="#bebebe"/><rect x="1032.25" y="1999.65" width="159.75" height="7.1" fill="#bebebe"/><text class="t" font-size="11.0" transform="translate(1016.45,2008.1) scale(1.1,1)" text-anchor="end">(5.84e+03,7.44e+03]</text><rect x="1032.25" y="2008.17" width="161.5" height="7.1" fill="#bebebe"/><rect x="1032.25" y="2016.7" width="162.25" height="7.1" fill="#ff0000"/><text class="t" font-size="11.0" transform="translate(1016.45,2025.15) scale(1.1,1)" text-anchor="end">(9.41e+03,1.44e+04]</text><text class="t" font-size="11.0" transform="translate(1032.25,2052.3) scale(1.1,1)" text-anchor="middle">0</text><text class="t" font-size="11.0" transform="translate(1066.5,2052.3) scale(1.1,1)" text-anchor="middle">2</text><text class="t" font-size="11.0" transform="translate(1100.75,2052.3) scale(1.1,1)" text-anchor="middle">4</text><text class="t" font-size="11.0" transform="translate(1135,2052.3) scale(1.1,1)" text-anchor="middle">6</text><text class="t" font-size="11.0" transform="translate(1169.25,2052.3) scale(1.1,1)" text-anchor="middle">8</text><path class="ax" d="M1032.25 2027.4H1169.25M1032.25 2027.4v7.3M1066.5 2027.4v7.3M1100.75 2027.4v7.3M1135 2027.4v7.3M1169.25 2027.4v7.3"/><text class="t" font-size="11.0" transform="translate(1112.38,2080.6) scale(1.1,1)" text-anchor="middle">Mean Value</text><text class="h" font-size="13.6" x="1112.38" y="1929.1" text-anchor="middle">X12</text></g>
<g><rect x="114" y="2132" width="145.25" height="7.1" fill="#bebebe"/><text class="t" font-size="11.0" transform="translate(98.2,2140.45) scale(1.1,1)" text-anchor="end">[0,554]</text><rect x="114" y="2140.52" width="155.25" height="7.1" fill="#bebebe"/><rect x="114" y="2149.05" width="149.25" height="7.1" fill="#bebebe"/><text class="t" font-size="11.0" transform="translate(98.2,2157.5) scale(1.1,1)" text-anchor="end">(1.24e+03,2e+03]</text><rect x="114" y="2157.57" width="152.25" height="7.1" fill="#bebebe"/><rect x="114" y="2166.1" width="152.5" height="7.1" fill="#bebebe"/><text class="t" font-size="11.0" transform="translate(98.2,2174.55) scale(1.1,1)" text-anchor="end">(2.9e+03,3.97e+03]</text><rect x="114" y="2174.62" width="144" height="7.1" fill="#bebebe"/><rect x="114" y="2183.15" width="142.25" height="7.1" fill="#0000ff"/><text class="t" font-size="11.0" transform="translate(98.2,2191.6) scale(1.1,1)" text-anchor="end">(5.26e+03,6.94e+03]</text><rect x="114" y="2191.67" width="161.5" height="7.1" fill="#ff0000"/><rect x="114" y="2200.2" width="158.5" height="7.1" fill="#bebebe"/><text class="t" font-size="11.0" transform="translate(98.2,2208.65) scale(1.1,1)" text-anchor="end">(8.23e+03,1.29e+04]</text><text class="t" font-size="11.0" transform="translate(114,2235.8) scale(1.1,1)" text-anchor="middle">0</text><text class="t" font-size="11.0" transform="translate(147.81,2235.8) scale(1.1,1)" text-anchor="middle">2</text><text class="t" font-size="11.0" transform="translate(181.62,2235.8) scale(1.1,1)" text-anchor="middle">4</text><text class="t" font-size="11.0" transform="translate(215.44,2235.8) scale(1.1,1)" text-anchor="middle">6</text><text class="t" font-size="11.0" transform="translate(249.25,2235.8) scale(1.1,1)" text-anchor="middle">8</text><path class="ax" d="M114 2210.9H249.25M114 2210.9v7.3M147.81 2210.9v7.3M181.62 2210.9v7.3M215.44 2210.9v7.3M249.25 2210.9v7.3"/><text class="t" font-size="11.0" transform="translate(193.75,2264.1) scale(1.1,1)" text-anchor="middle">Mean Value</text><text class="h" font-size="13.6" x="193.75" y="2112.6" text-anchor="middle">X13</text></g>
<text class="cap" y="2300.5"><tspan x="503.9">（</tspan><tspan x="539.5">c</tspan><tspan x="556.9">）</tspan><tspan x="586">Huanghua</tspan></text>
</svg>
</body></html>
